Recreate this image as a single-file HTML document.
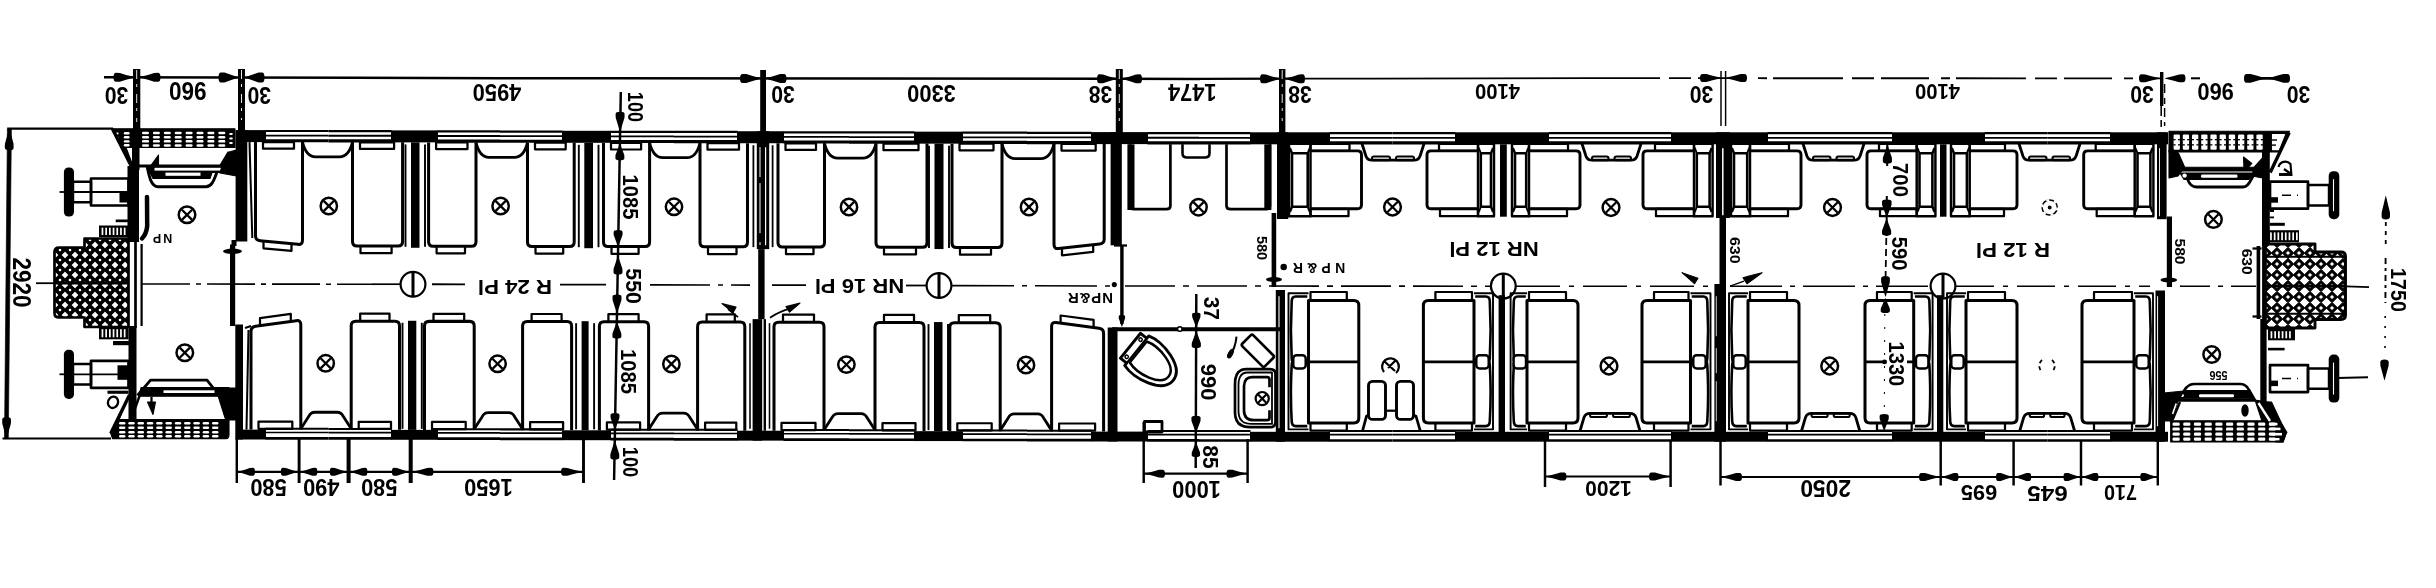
<!DOCTYPE html>
<html><head><meta charset="utf-8"><title>Wagenplan</title>
<style>
html,body{margin:0;padding:0;background:#fff;}
body{width:2436px;height:588px;overflow:hidden;font-family:"Liberation Sans",sans-serif;}
svg{display:block;}
svg text{font-family:"Liberation Sans",sans-serif;}
</style></head><body>
<svg width="2436" height="588" viewBox="0 0 2436 588" stroke="#000" fill="none" stroke-linejoin="round">
<defs>
<filter id="soft" x="-1%" y="-1%" width="102%" height="102%"><feGaussianBlur stdDeviation="0.45"/></filter>
</defs>
<rect x="0" y="0" width="2436" height="588" fill="#fff" stroke="none"/>
<g filter="url(#soft)">
<g transform="translate(0 0.00)">
<rect x="237.0" y="130.1" width="29.0" height="12.0" fill="#000" stroke="none"/>
</g>
<g transform="translate(0 0.00)">
<line x1="265.5" y1="131.0" x2="328.5" y2="131.0" stroke-width="2.24" stroke-linecap="butt"/>
<line x1="265.5" y1="135.6" x2="328.5" y2="135.6" stroke-width="1.79" stroke-linecap="butt"/>
<line x1="265.5" y1="140.7" x2="328.5" y2="140.7" stroke-width="3.14" stroke-linecap="butt"/>
</g>
<g transform="translate(0 0.15)">
<line x1="328.5" y1="131.0" x2="391.5" y2="131.0" stroke-width="2.24" stroke-linecap="butt"/>
<line x1="328.5" y1="135.6" x2="391.5" y2="135.6" stroke-width="1.79" stroke-linecap="butt"/>
<line x1="328.5" y1="140.7" x2="391.5" y2="140.7" stroke-width="3.14" stroke-linecap="butt"/>
</g>
<g transform="translate(0 0.28)">
<rect x="391.0" y="130.1" width="47.0" height="12.0" fill="#000" stroke="none"/>
</g>
<g transform="translate(0 0.41)">
<line x1="437.5" y1="131.0" x2="500.0" y2="131.0" stroke-width="2.24" stroke-linecap="butt"/>
<line x1="437.5" y1="135.6" x2="500.0" y2="135.6" stroke-width="1.79" stroke-linecap="butt"/>
<line x1="437.5" y1="140.7" x2="500.0" y2="140.7" stroke-width="3.14" stroke-linecap="butt"/>
</g>
<g transform="translate(0 0.57)">
<line x1="500.0" y1="131.0" x2="562.5" y2="131.0" stroke-width="2.24" stroke-linecap="butt"/>
<line x1="500.0" y1="135.6" x2="562.5" y2="135.6" stroke-width="1.79" stroke-linecap="butt"/>
<line x1="500.0" y1="140.7" x2="562.5" y2="140.7" stroke-width="3.14" stroke-linecap="butt"/>
</g>
<g transform="translate(0 0.70)">
<rect x="562.0" y="130.1" width="49.0" height="12.0" fill="#000" stroke="none"/>
</g>
<g transform="translate(0 0.84)">
<line x1="610.5" y1="131.0" x2="674.0" y2="131.0" stroke-width="2.24" stroke-linecap="butt"/>
<line x1="610.5" y1="135.6" x2="674.0" y2="135.6" stroke-width="1.79" stroke-linecap="butt"/>
<line x1="610.5" y1="140.7" x2="674.0" y2="140.7" stroke-width="3.14" stroke-linecap="butt"/>
</g>
<g transform="translate(0 0.99)">
<line x1="674.0" y1="131.0" x2="737.5" y2="131.0" stroke-width="2.24" stroke-linecap="butt"/>
<line x1="674.0" y1="135.6" x2="737.5" y2="135.6" stroke-width="1.79" stroke-linecap="butt"/>
<line x1="674.0" y1="140.7" x2="737.5" y2="140.7" stroke-width="3.14" stroke-linecap="butt"/>
</g>
<g transform="translate(0 1.13)">
<rect x="737.0" y="130.1" width="47.0" height="12.0" fill="#000" stroke="none"/>
</g>
<g transform="translate(0 1.26)">
<line x1="783.5" y1="131.0" x2="849.0" y2="131.0" stroke-width="2.24" stroke-linecap="butt"/>
<line x1="783.5" y1="135.6" x2="849.0" y2="135.6" stroke-width="1.79" stroke-linecap="butt"/>
<line x1="783.5" y1="140.7" x2="849.0" y2="140.7" stroke-width="3.14" stroke-linecap="butt"/>
</g>
<g transform="translate(0 1.42)">
<line x1="849.0" y1="131.0" x2="914.5" y2="131.0" stroke-width="2.24" stroke-linecap="butt"/>
<line x1="849.0" y1="135.6" x2="914.5" y2="135.6" stroke-width="1.79" stroke-linecap="butt"/>
<line x1="849.0" y1="140.7" x2="914.5" y2="140.7" stroke-width="3.14" stroke-linecap="butt"/>
</g>
<g transform="translate(0 1.56)">
<rect x="914.0" y="130.1" width="49.0" height="12.0" fill="#000" stroke="none"/>
</g>
<g transform="translate(0 1.70)">
<line x1="962.5" y1="131.0" x2="1027.0" y2="131.0" stroke-width="2.24" stroke-linecap="butt"/>
<line x1="962.5" y1="135.6" x2="1027.0" y2="135.6" stroke-width="1.79" stroke-linecap="butt"/>
<line x1="962.5" y1="140.7" x2="1027.0" y2="140.7" stroke-width="3.14" stroke-linecap="butt"/>
</g>
<g transform="translate(0 1.86)">
<line x1="1027.0" y1="131.0" x2="1091.5" y2="131.0" stroke-width="2.24" stroke-linecap="butt"/>
<line x1="1027.0" y1="135.6" x2="1091.5" y2="135.6" stroke-width="1.79" stroke-linecap="butt"/>
<line x1="1027.0" y1="140.7" x2="1091.5" y2="140.7" stroke-width="3.14" stroke-linecap="butt"/>
</g>
<g transform="translate(0 2.00)">
<rect x="1091.0" y="130.1" width="57.0" height="12.0" fill="#000" stroke="none"/>
</g>
<g transform="translate(0 2.13)">
<line x1="1147.5" y1="131.0" x2="1199.0" y2="131.0" stroke-width="2.24" stroke-linecap="butt"/>
<line x1="1147.5" y1="135.6" x2="1199.0" y2="135.6" stroke-width="1.79" stroke-linecap="butt"/>
<line x1="1147.5" y1="140.7" x2="1199.0" y2="140.7" stroke-width="3.14" stroke-linecap="butt"/>
</g>
<g transform="translate(0 2.20)">
<line x1="1199.0" y1="131.0" x2="1250.5" y2="131.0" stroke-width="2.24" stroke-linecap="butt"/>
<line x1="1199.0" y1="135.6" x2="1250.5" y2="135.6" stroke-width="1.79" stroke-linecap="butt"/>
<line x1="1199.0" y1="140.7" x2="1250.5" y2="140.7" stroke-width="3.14" stroke-linecap="butt"/>
</g>
<g transform="translate(0 2.20)">
<rect x="1250.0" y="130.1" width="80.0" height="12.0" fill="#000" stroke="none"/>
</g>
<g transform="translate(0 2.20)">
<line x1="1329.5" y1="131.0" x2="1392.5" y2="131.0" stroke-width="2.24" stroke-linecap="butt"/>
<line x1="1329.5" y1="135.6" x2="1392.5" y2="135.6" stroke-width="1.79" stroke-linecap="butt"/>
<line x1="1329.5" y1="140.7" x2="1392.5" y2="140.7" stroke-width="3.14" stroke-linecap="butt"/>
</g>
<g transform="translate(0 2.20)">
<line x1="1392.5" y1="131.0" x2="1455.5" y2="131.0" stroke-width="2.24" stroke-linecap="butt"/>
<line x1="1392.5" y1="135.6" x2="1455.5" y2="135.6" stroke-width="1.79" stroke-linecap="butt"/>
<line x1="1392.5" y1="140.7" x2="1455.5" y2="140.7" stroke-width="3.14" stroke-linecap="butt"/>
</g>
<g transform="translate(0 2.20)">
<rect x="1455.0" y="130.1" width="94.0" height="12.0" fill="#000" stroke="none"/>
</g>
<g transform="translate(0 2.20)">
<line x1="1548.5" y1="131.0" x2="1610.0" y2="131.0" stroke-width="2.24" stroke-linecap="butt"/>
<line x1="1548.5" y1="135.6" x2="1610.0" y2="135.6" stroke-width="1.79" stroke-linecap="butt"/>
<line x1="1548.5" y1="140.7" x2="1610.0" y2="140.7" stroke-width="3.14" stroke-linecap="butt"/>
</g>
<g transform="translate(0 2.20)">
<line x1="1610.0" y1="131.0" x2="1671.5" y2="131.0" stroke-width="2.24" stroke-linecap="butt"/>
<line x1="1610.0" y1="135.6" x2="1671.5" y2="135.6" stroke-width="1.79" stroke-linecap="butt"/>
<line x1="1610.0" y1="140.7" x2="1671.5" y2="140.7" stroke-width="3.14" stroke-linecap="butt"/>
</g>
<g transform="translate(0 2.20)">
<rect x="1671.0" y="130.1" width="97.0" height="12.0" fill="#000" stroke="none"/>
</g>
<g transform="translate(0 2.20)">
<line x1="1767.5" y1="131.0" x2="1830.0" y2="131.0" stroke-width="2.24" stroke-linecap="butt"/>
<line x1="1767.5" y1="135.6" x2="1830.0" y2="135.6" stroke-width="1.79" stroke-linecap="butt"/>
<line x1="1767.5" y1="140.7" x2="1830.0" y2="140.7" stroke-width="3.14" stroke-linecap="butt"/>
</g>
<g transform="translate(0 2.20)">
<line x1="1830.0" y1="131.0" x2="1892.5" y2="131.0" stroke-width="2.24" stroke-linecap="butt"/>
<line x1="1830.0" y1="135.6" x2="1892.5" y2="135.6" stroke-width="1.79" stroke-linecap="butt"/>
<line x1="1830.0" y1="140.7" x2="1892.5" y2="140.7" stroke-width="3.14" stroke-linecap="butt"/>
</g>
<g transform="translate(0 2.20)">
<rect x="1892.0" y="130.1" width="93.0" height="12.0" fill="#000" stroke="none"/>
</g>
<g transform="translate(0 2.20)">
<line x1="1984.5" y1="131.0" x2="2047.5" y2="131.0" stroke-width="2.24" stroke-linecap="butt"/>
<line x1="1984.5" y1="135.6" x2="2047.5" y2="135.6" stroke-width="1.79" stroke-linecap="butt"/>
<line x1="1984.5" y1="140.7" x2="2047.5" y2="140.7" stroke-width="3.14" stroke-linecap="butt"/>
</g>
<g transform="translate(0 2.20)">
<line x1="2047.5" y1="131.0" x2="2110.5" y2="131.0" stroke-width="2.24" stroke-linecap="butt"/>
<line x1="2047.5" y1="135.6" x2="2110.5" y2="135.6" stroke-width="1.79" stroke-linecap="butt"/>
<line x1="2047.5" y1="140.7" x2="2110.5" y2="140.7" stroke-width="3.14" stroke-linecap="butt"/>
</g>
<g transform="translate(0 2.20)">
<rect x="2110.0" y="130.1" width="58.0" height="12.0" fill="#000" stroke="none"/>
</g>
<g transform="translate(0 0.00)">
<rect x="237.0" y="429.6" width="29.0" height="9.9" fill="#000" stroke="none"/>
</g>
<g transform="translate(0 0.00)">
<line x1="265.5" y1="428.8" x2="328.5" y2="428.8" stroke-width="2.02" stroke-linecap="butt"/>
<line x1="265.5" y1="432.5" x2="328.5" y2="432.5" stroke-width="1.68" stroke-linecap="butt"/>
<line x1="265.5" y1="438.3" x2="328.5" y2="438.3" stroke-width="2.69" stroke-linecap="butt"/>
</g>
<g transform="translate(0 0.15)">
<line x1="328.5" y1="428.8" x2="391.5" y2="428.8" stroke-width="2.02" stroke-linecap="butt"/>
<line x1="328.5" y1="432.5" x2="391.5" y2="432.5" stroke-width="1.68" stroke-linecap="butt"/>
<line x1="328.5" y1="438.3" x2="391.5" y2="438.3" stroke-width="2.69" stroke-linecap="butt"/>
</g>
<g transform="translate(0 0.28)">
<rect x="391.0" y="429.6" width="47.0" height="9.9" fill="#000" stroke="none"/>
</g>
<g transform="translate(0 0.41)">
<line x1="437.5" y1="428.8" x2="500.0" y2="428.8" stroke-width="2.02" stroke-linecap="butt"/>
<line x1="437.5" y1="432.5" x2="500.0" y2="432.5" stroke-width="1.68" stroke-linecap="butt"/>
<line x1="437.5" y1="438.3" x2="500.0" y2="438.3" stroke-width="2.69" stroke-linecap="butt"/>
</g>
<g transform="translate(0 0.57)">
<line x1="500.0" y1="428.8" x2="562.5" y2="428.8" stroke-width="2.02" stroke-linecap="butt"/>
<line x1="500.0" y1="432.5" x2="562.5" y2="432.5" stroke-width="1.68" stroke-linecap="butt"/>
<line x1="500.0" y1="438.3" x2="562.5" y2="438.3" stroke-width="2.69" stroke-linecap="butt"/>
</g>
<g transform="translate(0 0.70)">
<rect x="562.0" y="429.6" width="49.0" height="9.9" fill="#000" stroke="none"/>
</g>
<g transform="translate(0 0.84)">
<line x1="610.5" y1="428.8" x2="674.0" y2="428.8" stroke-width="2.02" stroke-linecap="butt"/>
<line x1="610.5" y1="432.5" x2="674.0" y2="432.5" stroke-width="1.68" stroke-linecap="butt"/>
<line x1="610.5" y1="438.3" x2="674.0" y2="438.3" stroke-width="2.69" stroke-linecap="butt"/>
</g>
<g transform="translate(0 0.99)">
<line x1="674.0" y1="428.8" x2="737.5" y2="428.8" stroke-width="2.02" stroke-linecap="butt"/>
<line x1="674.0" y1="432.5" x2="737.5" y2="432.5" stroke-width="1.68" stroke-linecap="butt"/>
<line x1="674.0" y1="438.3" x2="737.5" y2="438.3" stroke-width="2.69" stroke-linecap="butt"/>
</g>
<g transform="translate(0 1.13)">
<rect x="737.0" y="429.6" width="47.0" height="9.9" fill="#000" stroke="none"/>
</g>
<g transform="translate(0 1.26)">
<line x1="783.5" y1="428.8" x2="849.0" y2="428.8" stroke-width="2.02" stroke-linecap="butt"/>
<line x1="783.5" y1="432.5" x2="849.0" y2="432.5" stroke-width="1.68" stroke-linecap="butt"/>
<line x1="783.5" y1="438.3" x2="849.0" y2="438.3" stroke-width="2.69" stroke-linecap="butt"/>
</g>
<g transform="translate(0 1.42)">
<line x1="849.0" y1="428.8" x2="914.5" y2="428.8" stroke-width="2.02" stroke-linecap="butt"/>
<line x1="849.0" y1="432.5" x2="914.5" y2="432.5" stroke-width="1.68" stroke-linecap="butt"/>
<line x1="849.0" y1="438.3" x2="914.5" y2="438.3" stroke-width="2.69" stroke-linecap="butt"/>
</g>
<g transform="translate(0 1.56)">
<rect x="914.0" y="429.6" width="49.0" height="9.9" fill="#000" stroke="none"/>
</g>
<g transform="translate(0 1.70)">
<line x1="962.5" y1="428.8" x2="1027.0" y2="428.8" stroke-width="2.02" stroke-linecap="butt"/>
<line x1="962.5" y1="432.5" x2="1027.0" y2="432.5" stroke-width="1.68" stroke-linecap="butt"/>
<line x1="962.5" y1="438.3" x2="1027.0" y2="438.3" stroke-width="2.69" stroke-linecap="butt"/>
</g>
<g transform="translate(0 1.86)">
<line x1="1027.0" y1="428.8" x2="1091.5" y2="428.8" stroke-width="2.02" stroke-linecap="butt"/>
<line x1="1027.0" y1="432.5" x2="1091.5" y2="432.5" stroke-width="1.68" stroke-linecap="butt"/>
<line x1="1027.0" y1="438.3" x2="1091.5" y2="438.3" stroke-width="2.69" stroke-linecap="butt"/>
</g>
<g transform="translate(0 2.00)">
<rect x="1091.0" y="429.6" width="57.0" height="9.9" fill="#000" stroke="none"/>
</g>
<g transform="translate(0 2.13)">
<line x1="1147.5" y1="428.8" x2="1199.0" y2="428.8" stroke-width="2.02" stroke-linecap="butt"/>
<line x1="1147.5" y1="432.5" x2="1199.0" y2="432.5" stroke-width="1.68" stroke-linecap="butt"/>
<line x1="1147.5" y1="438.3" x2="1199.0" y2="438.3" stroke-width="2.69" stroke-linecap="butt"/>
</g>
<g transform="translate(0 2.20)">
<line x1="1199.0" y1="428.8" x2="1250.5" y2="428.8" stroke-width="2.02" stroke-linecap="butt"/>
<line x1="1199.0" y1="432.5" x2="1250.5" y2="432.5" stroke-width="1.68" stroke-linecap="butt"/>
<line x1="1199.0" y1="438.3" x2="1250.5" y2="438.3" stroke-width="2.69" stroke-linecap="butt"/>
</g>
<g transform="translate(0 2.20)">
<rect x="1250.0" y="429.6" width="80.0" height="9.9" fill="#000" stroke="none"/>
</g>
<g transform="translate(0 2.20)">
<line x1="1329.5" y1="428.8" x2="1392.5" y2="428.8" stroke-width="2.02" stroke-linecap="butt"/>
<line x1="1329.5" y1="432.5" x2="1392.5" y2="432.5" stroke-width="1.68" stroke-linecap="butt"/>
<line x1="1329.5" y1="438.3" x2="1392.5" y2="438.3" stroke-width="2.69" stroke-linecap="butt"/>
</g>
<g transform="translate(0 2.20)">
<line x1="1392.5" y1="428.8" x2="1455.5" y2="428.8" stroke-width="2.02" stroke-linecap="butt"/>
<line x1="1392.5" y1="432.5" x2="1455.5" y2="432.5" stroke-width="1.68" stroke-linecap="butt"/>
<line x1="1392.5" y1="438.3" x2="1455.5" y2="438.3" stroke-width="2.69" stroke-linecap="butt"/>
</g>
<g transform="translate(0 2.20)">
<rect x="1455.0" y="429.6" width="94.0" height="9.9" fill="#000" stroke="none"/>
</g>
<g transform="translate(0 2.20)">
<line x1="1548.5" y1="428.8" x2="1610.0" y2="428.8" stroke-width="2.02" stroke-linecap="butt"/>
<line x1="1548.5" y1="432.5" x2="1610.0" y2="432.5" stroke-width="1.68" stroke-linecap="butt"/>
<line x1="1548.5" y1="438.3" x2="1610.0" y2="438.3" stroke-width="2.69" stroke-linecap="butt"/>
</g>
<g transform="translate(0 2.20)">
<line x1="1610.0" y1="428.8" x2="1671.5" y2="428.8" stroke-width="2.02" stroke-linecap="butt"/>
<line x1="1610.0" y1="432.5" x2="1671.5" y2="432.5" stroke-width="1.68" stroke-linecap="butt"/>
<line x1="1610.0" y1="438.3" x2="1671.5" y2="438.3" stroke-width="2.69" stroke-linecap="butt"/>
</g>
<g transform="translate(0 2.20)">
<rect x="1671.0" y="429.6" width="97.0" height="9.9" fill="#000" stroke="none"/>
</g>
<g transform="translate(0 2.20)">
<line x1="1767.5" y1="428.8" x2="1830.0" y2="428.8" stroke-width="2.02" stroke-linecap="butt"/>
<line x1="1767.5" y1="432.5" x2="1830.0" y2="432.5" stroke-width="1.68" stroke-linecap="butt"/>
<line x1="1767.5" y1="438.3" x2="1830.0" y2="438.3" stroke-width="2.69" stroke-linecap="butt"/>
</g>
<g transform="translate(0 2.20)">
<line x1="1830.0" y1="428.8" x2="1892.5" y2="428.8" stroke-width="2.02" stroke-linecap="butt"/>
<line x1="1830.0" y1="432.5" x2="1892.5" y2="432.5" stroke-width="1.68" stroke-linecap="butt"/>
<line x1="1830.0" y1="438.3" x2="1892.5" y2="438.3" stroke-width="2.69" stroke-linecap="butt"/>
</g>
<g transform="translate(0 2.20)">
<rect x="1892.0" y="429.6" width="93.0" height="9.9" fill="#000" stroke="none"/>
</g>
<g transform="translate(0 2.20)">
<line x1="1984.5" y1="428.8" x2="2047.5" y2="428.8" stroke-width="2.02" stroke-linecap="butt"/>
<line x1="1984.5" y1="432.5" x2="2047.5" y2="432.5" stroke-width="1.68" stroke-linecap="butt"/>
<line x1="1984.5" y1="438.3" x2="2047.5" y2="438.3" stroke-width="2.69" stroke-linecap="butt"/>
</g>
<g transform="translate(0 2.20)">
<line x1="2047.5" y1="428.8" x2="2110.5" y2="428.8" stroke-width="2.02" stroke-linecap="butt"/>
<line x1="2047.5" y1="432.5" x2="2110.5" y2="432.5" stroke-width="1.68" stroke-linecap="butt"/>
<line x1="2047.5" y1="438.3" x2="2110.5" y2="438.3" stroke-width="2.69" stroke-linecap="butt"/>
</g>
<g transform="translate(0 2.20)">
<rect x="2110.0" y="429.6" width="58.0" height="9.9" fill="#000" stroke="none"/>
</g>
<line x1="142.0" y1="284.0" x2="372.0" y2="284.2" stroke-width="1.57" stroke-linecap="butt" stroke-dasharray="48 6 5 6"/>
<line x1="372.0" y1="284.2" x2="400.5" y2="284.2" stroke-width="1.68" stroke-linecap="butt"/>
<line x1="432.0" y1="284.3" x2="465.0" y2="284.4" stroke-width="1.9" stroke-linecap="butt"/>
<line x1="560.0" y1="284.6" x2="606.0" y2="284.7" stroke-width="1.79" stroke-linecap="butt"/>
<line x1="650.0" y1="284.9" x2="750.0" y2="285.1" stroke-width="1.57" stroke-linecap="butt" stroke-dasharray="60 8 5 8"/>
<line x1="772.0" y1="285.2" x2="806.0" y2="285.2" stroke-width="1.79" stroke-linecap="butt"/>
<line x1="905.0" y1="285.5" x2="926.0" y2="285.5" stroke-width="1.79" stroke-linecap="butt"/>
<line x1="952.0" y1="285.6" x2="1115.0" y2="286.0" stroke-width="1.57" stroke-linecap="butt" stroke-dasharray="62 8 5 8"/>
<line x1="1125.0" y1="286.0" x2="1490.0" y2="286.2" stroke-width="1.57" stroke-linecap="butt" stroke-dasharray="50 8 6 8"/>
<line x1="1516.0" y1="286.2" x2="1716.0" y2="286.2" stroke-width="1.57" stroke-linecap="butt" stroke-dasharray="44 9 5 9"/>
<line x1="1730.0" y1="286.2" x2="1930.0" y2="286.2" stroke-width="1.57" stroke-linecap="butt" stroke-dasharray="52 8 5 8"/>
<line x1="1956.0" y1="286.2" x2="2150.0" y2="286.2" stroke-width="1.57" stroke-linecap="butt" stroke-dasharray="38 9 5 9"/>
<line x1="2180.0" y1="286.2" x2="2256.0" y2="286.2" stroke-width="1.57" stroke-linecap="butt" stroke-dasharray="30 8 5 8"/>
<g transform="translate(0 0.00)">
<path d="M255.5,142.1 L255.5,235.8 Q255.5,240.3 260.0,240.73 L298.0,244.37 Q302.5,244.8 302.5,240.3 L302.5,142.1" fill="none" stroke-width="3.02" />
<rect x="263.0" y="142.1" width="31.0" height="6.6" rx="0" fill="none" stroke-width="2.24"/>
<path d="M263.5,241.07 L263.5,248.27 L291.5,250.95 L291.5,243.75" fill="none" stroke-width="2.24" />
</g>
<g transform="translate(0 0.19)">
<path d="M352.5,142.1 L352.5,241.3 Q352.5,245.8 357.0,245.80 L398.1,245.80 Q402.6,245.8 402.6,241.3 L402.6,142.1" fill="none" stroke-width="3.02" />
<rect x="360.0" y="142.1" width="34.1" height="6.6" rx="0" fill="none" stroke-width="2.24"/>
<path d="M360.5,245.80 L360.5,253.00 L391.6,253.00 L391.6,245.80" fill="none" stroke-width="2.24" />
</g>
<g transform="translate(0 0.37)">
<path d="M428.6,142.1 L428.6,241.3 Q428.6,245.8 433.1,245.80 L471.5,245.80 Q476,245.8 476,241.3 L476,142.1" fill="none" stroke-width="3.02" />
<rect x="436.1" y="142.1" width="31.4" height="6.6" rx="0" fill="none" stroke-width="2.24"/>
<path d="M436.6,245.80 L436.6,253.00 L465,253.00 L465,245.80" fill="none" stroke-width="2.24" />
</g>
<g transform="translate(0 0.61)">
<path d="M527.5,142.1 L527.5,241.3 Q527.5,245.8 532.0,245.80 L569.7,245.80 Q574.2,245.8 574.2,241.3 L574.2,142.1" fill="none" stroke-width="3.02" />
<rect x="535.0" y="142.1" width="30.7" height="6.6" rx="0" fill="none" stroke-width="2.24"/>
<path d="M535.5,245.80 L535.5,253.00 L563.2,253.00 L563.2,245.80" fill="none" stroke-width="2.24" />
</g>
<g transform="translate(0 0.80)">
<path d="M603.5,142.1 L603.5,241.3 Q603.5,245.8 608.0,245.80 L645.1,245.80 Q649.6,245.8 649.6,241.3 L649.6,142.1" fill="none" stroke-width="3.02" />
<rect x="611.0" y="142.1" width="30.1" height="6.6" rx="0" fill="none" stroke-width="2.24"/>
<path d="M611.5,245.80 L611.5,253.00 L638.6,253.00 L638.6,245.80" fill="none" stroke-width="2.24" />
</g>
<g transform="translate(0 1.04)">
<path d="M700,142.1 L700,241.3 Q700,245.8 704.5,245.80 L743.0,245.80 Q747.5,245.8 747.5,241.3 L747.5,142.1" fill="none" stroke-width="3.02" />
<rect x="707.5" y="142.1" width="31.5" height="6.6" rx="0" fill="none" stroke-width="2.24"/>
<path d="M708,245.80 L708,253.00 L736.5,253.00 L736.5,245.80" fill="none" stroke-width="2.24" />
</g>
<g transform="translate(0 1.23)">
<path d="M778,142.1 L778,241.3 Q778,245.8 782.5,245.80 L820.0,245.80 Q824.5,245.8 824.5,241.3 L824.5,142.1" fill="none" stroke-width="3.02" />
<rect x="785.5" y="142.1" width="30.5" height="6.6" rx="0" fill="none" stroke-width="2.24"/>
<path d="M786,245.80 L786,253.00 L813.5,253.00 L813.5,245.80" fill="none" stroke-width="2.24" />
</g>
<g transform="translate(0 1.47)">
<path d="M876,142.1 L876,241.3 Q876,245.8 880.5,245.80 L922.5,245.80 Q927.0,245.8 927.0,241.3 L927.0,142.1" fill="none" stroke-width="3.02" />
<rect x="883.5" y="142.1" width="35.0" height="6.6" rx="0" fill="none" stroke-width="2.24"/>
<path d="M884,245.80 L884,253.00 L916.0,253.00 L916.0,245.80" fill="none" stroke-width="2.24" />
</g>
<g transform="translate(0 1.65)">
<path d="M952,142.1 L952,241.3 Q952,245.8 956.5,245.80 L997.5,245.80 Q1002,245.8 1002,241.3 L1002,142.1" fill="none" stroke-width="3.02" />
<rect x="959.5" y="142.1" width="34.0" height="6.6" rx="0" fill="none" stroke-width="2.24"/>
<path d="M960,245.80 L960,253.00 L991,253.00 L991,245.80" fill="none" stroke-width="2.24" />
</g>
<g transform="translate(0 1.90)">
<path d="M1054,142.1 L1054,242.60000000000002 Q1054,247.10000000000002 1058.5,246.62 L1099.7,242.18 Q1104.2,241.70000000000002 1104.2,237.20000000000002 L1104.2,142.1" fill="none" stroke-width="3.02" />
<rect x="1061.5" y="142.1" width="34.2" height="6.6" rx="0" fill="none" stroke-width="2.24"/>
<path d="M1062,246.24 L1062,253.44 L1093.2,250.08 L1093.2,242.88" fill="none" stroke-width="2.24" />
</g>
<g transform="translate(0 0.00)">
<path d="M251,429.6 L251,331.5 Q251,327.0 255.5,326.37 L296.3,320.63 Q300.8,320.0 300.8,324.5 L300.8,429.6" fill="none" stroke-width="3.02" />
<rect x="258.5" y="421.6" width="33.8" height="7.2" rx="0" fill="none" stroke-width="2.24"/>
<path d="M260,325.73 L260,318.13 L290.8,313.81 L290.8,321.41" fill="none" stroke-width="2.24" />
</g>
<g transform="translate(0 0.18)">
<path d="M351.2,429.6 L351.2,325.5 Q351.2,321.0 355.7,321.00 L395.0,321.00 Q399.5,321.0 399.5,325.5 L399.5,429.6" fill="none" stroke-width="3.02" />
<rect x="358.7" y="421.6" width="32.3" height="7.2" rx="0" fill="none" stroke-width="2.24"/>
<path d="M360.2,321.00 L360.2,313.40 L389.5,313.40 L389.5,321.00" fill="none" stroke-width="2.24" />
</g>
<g transform="translate(0 0.37)">
<path d="M424.5,429.6 L424.5,325.5 Q424.5,321.0 429.0,321.00 L469.7,321.00 Q474.2,321.0 474.2,325.5 L474.2,429.6" fill="none" stroke-width="3.02" />
<rect x="432.0" y="421.6" width="33.7" height="7.2" rx="0" fill="none" stroke-width="2.24"/>
<path d="M433.5,321.00 L433.5,313.40 L464.2,313.40 L464.2,321.00" fill="none" stroke-width="2.24" />
</g>
<g transform="translate(0 0.60)">
<path d="M522.6,429.6 L522.6,325.5 Q522.6,321.0 527.1,321.00 L567.1,321.00 Q571.6,321.0 571.6,325.5 L571.6,429.6" fill="none" stroke-width="3.02" />
<rect x="530.1" y="421.6" width="33.0" height="7.2" rx="0" fill="none" stroke-width="2.24"/>
<path d="M531.6,321.00 L531.6,313.40 L561.6,313.40 L561.6,321.00" fill="none" stroke-width="2.24" />
</g>
<g transform="translate(0 0.79)">
<path d="M599.4,429.6 L599.4,325.5 Q599.4,321.0 603.9,321.00 L644.1,321.00 Q648.6,321.0 648.6,325.5 L648.6,429.6" fill="none" stroke-width="3.02" />
<rect x="606.9" y="421.6" width="33.2" height="7.2" rx="0" fill="none" stroke-width="2.24"/>
<path d="M608.4,321.00 L608.4,313.40 L638.6,313.40 L638.6,321.00" fill="none" stroke-width="2.24" />
</g>
<g transform="translate(0 1.03)">
<path d="M697.6,429.6 L697.6,325.5 Q697.6,321.0 702.1,321.00 L740.3,321.00 Q744.8,321.0 744.8,325.5 L744.8,429.6" fill="none" stroke-width="3.02" />
<rect x="705.1" y="421.6" width="31.2" height="7.2" rx="0" fill="none" stroke-width="2.24"/>
<path d="M706.6,321.00 L706.6,313.40 L734.8,313.40 L734.8,321.00" fill="none" stroke-width="2.24" />
</g>
<g transform="translate(0 1.22)">
<path d="M774,429.6 L774,325.5 Q774,321.0 778.5,321.00 L819.5,321.00 Q824,321.0 824,325.5 L824,429.6" fill="none" stroke-width="3.02" />
<rect x="781.5" y="421.6" width="34.0" height="7.2" rx="0" fill="none" stroke-width="2.24"/>
<path d="M783,321.00 L783,313.40 L814,313.40 L814,321.00" fill="none" stroke-width="2.24" />
</g>
<g transform="translate(0 1.47)">
<path d="M875,429.6 L875,325.5 Q875,321.0 879.5,321.00 L919.5,321.00 Q924,321.0 924,325.5 L924,429.6" fill="none" stroke-width="3.02" />
<rect x="882.5" y="421.6" width="33.0" height="7.2" rx="0" fill="none" stroke-width="2.24"/>
<path d="M884,321.00 L884,313.40 L914,313.40 L914,321.00" fill="none" stroke-width="2.24" />
</g>
<g transform="translate(0 1.65)">
<path d="M949.8,429.6 L949.8,325.5 Q949.8,321.0 954.3,321.00 L995.7,321.00 Q1000.2,321.0 1000.2,325.5 L1000.2,429.6" fill="none" stroke-width="3.02" />
<rect x="957.3" y="421.6" width="34.4" height="7.2" rx="0" fill="none" stroke-width="2.24"/>
<path d="M958.8,321.00 L958.8,313.40 L990.2,313.40 L990.2,321.00" fill="none" stroke-width="2.24" />
</g>
<g transform="translate(0 1.90)">
<path d="M1051.6,429.6 L1051.6,324.5 Q1051.6,320.0 1056.1,320.61 L1099.1,326.39 Q1103.6,327.0 1103.6,331.5 L1103.6,429.6" fill="none" stroke-width="3.02" />
<rect x="1059.1" y="421.6" width="36.0" height="7.2" rx="0" fill="none" stroke-width="2.24"/>
<path d="M1060.6,321.21 L1060.6,313.61 L1093.6,318.05 L1093.6,325.65" fill="none" stroke-width="2.24" />
</g>
<g transform="translate(0 0.07)">
<path d="M302.5,142.1 C304.5,150.1 308.5,156.8 315.5,156.8 L339.5,156.8 C346.5,156.8 350.5,150.1 352.5,142.1" fill="none" stroke-width="2.8" />
</g>
<g transform="translate(0 0.49)">
<path d="M476,142.1 C478,150.1 482,156.8 489,156.8 L514.5,156.8 C521.5,156.8 525.5,150.1 527.5,142.1" fill="none" stroke-width="2.8" />
</g>
<g transform="translate(0 0.92)">
<path d="M649.6,142.1 C651.6,150.1 655.6,156.8 662.6,156.8 L687,156.8 C694,156.8 698,150.1 700,142.1" fill="none" stroke-width="2.8" />
</g>
<g transform="translate(0 1.35)">
<path d="M824.5,142.1 C826.5,150.1 830.5,156.8 837.5,156.8 L863,156.8 C870,156.8 874,150.1 876,142.1" fill="none" stroke-width="2.8" />
</g>
<g transform="translate(0 1.78)">
<path d="M1002,142.1 C1004,150.1 1008,156.8 1015,156.8 L1041,156.8 C1048,156.8 1052,150.1 1054,142.1" fill="none" stroke-width="2.8" />
</g>
<g transform="translate(0 0.06)">
<path d="M300.8,428.6 L308.8,416.2 Q310.8,412.2 314.8,412.2 L337.2,412.2 Q341.2,412.2 343.2,416.2 L351.2,428.6" fill="none" stroke-width="2.8" />
</g>
<g transform="translate(0 0.48)">
<path d="M474.2,428.6 L482.2,416.2 Q484.2,412.2 488.2,412.2 L508.6,412.2 Q512.6,412.2 514.6,416.2 L522.6,428.6" fill="none" stroke-width="2.8" />
</g>
<g transform="translate(0 0.91)">
<path d="M648.6,428.6 L656.6,416.2 Q658.6,412.2 662.6,412.2 L683.6,412.2 Q687.6,412.2 689.6,416.2 L697.6,428.6" fill="none" stroke-width="2.8" />
</g>
<g transform="translate(0 1.34)">
<path d="M824,428.6 L832,416.2 Q834,412.2 838,412.2 L861,412.2 Q865,412.2 867,416.2 L875,428.6" fill="none" stroke-width="2.8" />
</g>
<g transform="translate(0 1.77)">
<path d="M1000.2,428.6 L1008.2,416.2 Q1010.2,412.2 1014.2,412.2 L1037.6,412.2 Q1041.6,412.2 1043.6,416.2 L1051.6,428.6" fill="none" stroke-width="2.8" />
</g>
<g transform="translate(0 0.28)">
<rect x="411.0" y="142.1" width="8.5" height="105.4" fill="#000" stroke="none"/>
<line x1="405.5" y1="144.1" x2="405.5" y2="246.5" stroke-width="1.9" stroke-linecap="butt"/>
<line x1="425.0" y1="144.1" x2="425.0" y2="246.5" stroke-width="1.9" stroke-linecap="butt"/>
</g>
<g transform="translate(0 0.71)">
<rect x="584.3" y="142.1" width="8.7" height="105.4" fill="#000" stroke="none"/>
<line x1="578.8" y1="144.1" x2="578.8" y2="246.5" stroke-width="1.9" stroke-linecap="butt"/>
<line x1="598.5" y1="144.1" x2="598.5" y2="246.5" stroke-width="1.9" stroke-linecap="butt"/>
</g>
<g transform="translate(0 1.56)">
<rect x="934.5" y="142.1" width="9.0" height="105.4" fill="#000" stroke="none"/>
<line x1="929.0" y1="144.1" x2="929.0" y2="246.5" stroke-width="1.9" stroke-linecap="butt"/>
<line x1="949.0" y1="144.1" x2="949.0" y2="246.5" stroke-width="1.9" stroke-linecap="butt"/>
</g>
<g transform="translate(0 0.27)">
<rect x="408.0" y="320.5" width="8.3" height="109.1" fill="#000" stroke="none"/>
<line x1="402.5" y1="322.5" x2="402.5" y2="428.6" stroke-width="1.9" stroke-linecap="butt"/>
<line x1="421.8" y1="322.5" x2="421.8" y2="428.6" stroke-width="1.9" stroke-linecap="butt"/>
</g>
<g transform="translate(0 0.70)">
<rect x="581.6" y="320.5" width="7.0" height="109.1" fill="#000" stroke="none"/>
<line x1="576.1" y1="322.5" x2="576.1" y2="428.6" stroke-width="1.9" stroke-linecap="butt"/>
<line x1="594.1" y1="322.5" x2="594.1" y2="428.6" stroke-width="1.9" stroke-linecap="butt"/>
</g>
<g transform="translate(0 1.56)">
<rect x="934.0" y="320.5" width="8.5" height="109.1" fill="#000" stroke="none"/>
<line x1="928.5" y1="322.5" x2="928.5" y2="428.6" stroke-width="1.9" stroke-linecap="butt"/>
<line x1="948.0" y1="322.5" x2="948.0" y2="428.6" stroke-width="1.9" stroke-linecap="butt"/>
</g>
<circle cx="328.8" cy="206.0" r="8.2" fill="none" stroke-width="2.46"/>
<line x1="323.7" y1="200.9" x2="333.9" y2="211.1" stroke-width="2.24" stroke-linecap="butt"/>
<line x1="323.7" y1="211.1" x2="333.9" y2="200.9" stroke-width="2.24" stroke-linecap="butt"/>
<circle cx="500.6" cy="206.0" r="8.2" fill="none" stroke-width="2.46"/>
<line x1="495.5" y1="200.9" x2="505.7" y2="211.1" stroke-width="2.24" stroke-linecap="butt"/>
<line x1="495.5" y1="211.1" x2="505.7" y2="200.9" stroke-width="2.24" stroke-linecap="butt"/>
<circle cx="674.0" cy="206.8" r="8.2" fill="none" stroke-width="2.46"/>
<line x1="668.9" y1="201.7" x2="679.1" y2="211.9" stroke-width="2.24" stroke-linecap="butt"/>
<line x1="668.9" y1="211.9" x2="679.1" y2="201.7" stroke-width="2.24" stroke-linecap="butt"/>
<circle cx="849.0" cy="207.0" r="8.2" fill="none" stroke-width="2.46"/>
<line x1="843.9" y1="201.9" x2="854.1" y2="212.1" stroke-width="2.24" stroke-linecap="butt"/>
<line x1="843.9" y1="212.1" x2="854.1" y2="201.9" stroke-width="2.24" stroke-linecap="butt"/>
<circle cx="1029.0" cy="207.0" r="8.2" fill="none" stroke-width="2.46"/>
<line x1="1023.9" y1="201.9" x2="1034.1" y2="212.1" stroke-width="2.24" stroke-linecap="butt"/>
<line x1="1023.9" y1="212.1" x2="1034.1" y2="201.9" stroke-width="2.24" stroke-linecap="butt"/>
<circle cx="325.7" cy="363.3" r="8.2" fill="none" stroke-width="2.46"/>
<line x1="320.6" y1="358.2" x2="330.8" y2="368.4" stroke-width="2.24" stroke-linecap="butt"/>
<line x1="320.6" y1="368.4" x2="330.8" y2="358.2" stroke-width="2.24" stroke-linecap="butt"/>
<circle cx="497.6" cy="363.8" r="8.2" fill="none" stroke-width="2.46"/>
<line x1="492.5" y1="358.7" x2="502.7" y2="368.9" stroke-width="2.24" stroke-linecap="butt"/>
<line x1="492.5" y1="368.9" x2="502.7" y2="358.7" stroke-width="2.24" stroke-linecap="butt"/>
<circle cx="671.4" cy="364.0" r="8.2" fill="none" stroke-width="2.46"/>
<line x1="666.3" y1="358.9" x2="676.5" y2="369.1" stroke-width="2.24" stroke-linecap="butt"/>
<line x1="666.3" y1="369.1" x2="676.5" y2="358.9" stroke-width="2.24" stroke-linecap="butt"/>
<circle cx="846.4" cy="364.6" r="8.2" fill="none" stroke-width="2.46"/>
<line x1="841.3" y1="359.5" x2="851.5" y2="369.7" stroke-width="2.24" stroke-linecap="butt"/>
<line x1="841.3" y1="369.7" x2="851.5" y2="359.5" stroke-width="2.24" stroke-linecap="butt"/>
<circle cx="1026.0" cy="365.0" r="8.2" fill="none" stroke-width="2.46"/>
<line x1="1020.9" y1="359.9" x2="1031.1" y2="370.1" stroke-width="2.24" stroke-linecap="butt"/>
<line x1="1020.9" y1="370.1" x2="1031.1" y2="359.9" stroke-width="2.24" stroke-linecap="butt"/>
<circle cx="413.0" cy="284.2" r="12.4" fill="#fff" stroke-width="2.2"/>
<line x1="413.0" y1="272.3" x2="413.0" y2="296.1" stroke-width="3.02" stroke-linecap="butt"/>
<circle cx="939.0" cy="285.5" r="12.4" fill="#fff" stroke-width="2.2"/>
<line x1="939.0" y1="273.6" x2="939.0" y2="297.4" stroke-width="3.02" stroke-linecap="butt"/>
<circle cx="1503.3" cy="286.1" r="12.4" fill="#fff" stroke-width="2.2"/>
<line x1="1503.3" y1="274.2" x2="1503.3" y2="298.0" stroke-width="3.02" stroke-linecap="butt"/>
<circle cx="1943.0" cy="286.1" r="12.4" fill="#fff" stroke-width="2.2"/>
<line x1="1943.0" y1="274.2" x2="1943.0" y2="298.0" stroke-width="3.02" stroke-linecap="butt"/>
<g transform="translate(0 0.00)">
<rect x="235.6" y="130.1" width="11.7" height="111.4" fill="#000" stroke="none"/>
<rect x="230.0" y="244.5" width="5.2" height="81.5" fill="#000" stroke="none"/>
<ellipse cx="232.5" cy="251.3" rx="9.5" ry="2.7" fill="#000" stroke="none"/>
<rect x="231.5" y="240.0" width="5.0" height="6.0" fill="#000" stroke="none"/>
<rect x="235.3" y="324.5" width="7.7" height="115.0" fill="#000" stroke="none"/>
<path d="M249.5,142.1 L252.3,238" fill="none" stroke-width="2.02" />
<path d="M246.5,429.6 L248.5,330 M245,328 L251,326" fill="none" stroke-width="2.02" />
</g>
<g transform="translate(0 1.13)">
<rect x="756.8" y="130.1" width="12.4" height="117.9" fill="#000" stroke="none"/>
<line x1="760.0" y1="146" x2="760.0" y2="244" stroke="#fff" stroke-width="1.0" stroke-dasharray="30 6 50 9"/>
<line x1="765.6" y1="146" x2="765.6" y2="244" stroke="#fff" stroke-width="1.2"/>
<line x1="753.4" y1="144.1" x2="753.4" y2="246.0" stroke-width="1.79" stroke-linecap="butt"/>
<line x1="772.6" y1="144.1" x2="772.6" y2="246.0" stroke-width="1.79" stroke-linecap="butt"/>
<rect x="758.2" y="248.0" width="6.4" height="70.0" fill="#000" stroke="none"/>
<rect x="752.6" y="318.0" width="9.6" height="121.5" fill="#000" stroke="none"/>
<rect x="763.6" y="318.0" width="2.4" height="111.6" fill="#000" stroke="none"/>
<line x1="750.0" y1="322.0" x2="750.0" y2="427.6" stroke-width="1.57" stroke-linecap="butt"/>
<line x1="769.5" y1="322.0" x2="769.5" y2="427.6" stroke-width="1.57" stroke-linecap="butt"/>
<path d="M722,302.5 L736,306 L733,311.5 Z" fill="#000" stroke-width="1.12" />
<path d="M728,308 Q733,312 738,316" fill="none" stroke-width="1.79" />
<path d="M800,302 L786,305.5 L789.5,311 Z" fill="#000" stroke-width="1.12" />
<path d="M790,307.5 Q780,310 770,316.5" fill="none" stroke-width="1.79" />
</g>
<g transform="translate(0 2.00)">
<rect x="1110.6" y="130.1" width="11.2" height="113.2" fill="#000" stroke="none"/>
<rect x="1120.2" y="243.3" width="3.4" height="78.7" fill="#000" stroke="none"/>
<path d="M0,0 L-1.20,-0.51 Q-4.80,-1.76 -8.40,-3.14 L-10.56,-3.20 Q-12.00,-3.20 -12.00,0 Q-12.00,3.20 -10.56,3.20 L-8.40,3.14 Q-4.80,1.76 -1.20,0.51 Z" transform="translate(1121.9 325.0) rotate(90)" fill="#000" stroke="none"/>
<line x1="1114.0" y1="243.5" x2="1127.0" y2="243.5" stroke-width="2.24" stroke-linecap="butt"/>
<rect x="1107.7" y="325.5" width="9.8" height="114.0" fill="#000" stroke="none"/>
<circle cx="1114.3" cy="282.6" r="1.8" fill="#000" stroke-width="1.57"/>
</g>
<g transform="translate(0 2.20)">
<rect x="1277.0" y="130.1" width="11.3" height="86.7" fill="#000" stroke="none"/>
<rect x="1271.6" y="210.8" width="4.6" height="74.0" fill="#000" stroke="none"/>
<ellipse cx="1274" cy="277.3" rx="8" ry="2.4" fill="#000" stroke="none"/>
<rect x="1275.8" y="287.8" width="9.2" height="151.7" fill="#000" stroke="none"/>
<line x1="1279.0" y1="294" x2="1279.0" y2="426" stroke="#fff" stroke-width="1.1"/>
</g>
<g transform="translate(0 2.20)">
<rect x="1716.0" y="130.1" width="14.0" height="85.7" fill="#000" stroke="none"/>
<line x1="1722.8" y1="146" x2="1722.8" y2="213" stroke="#fff" stroke-width="1.5"/>
<rect x="1719.5" y="215.8" width="6.5" height="67.0" fill="#000" stroke="none"/>
<rect x="1714.4" y="281.8" width="11.6" height="157.7" fill="#000" stroke="none"/>
<line x1="1716.3" y1="294" x2="1716.3" y2="424" stroke="#fff" stroke-width="0.8" stroke-dasharray="40 12 25 8"/>
<path d="M1682,270.5 L1698,276 L1694.5,281.5 Z" fill="#000" stroke-width="1.12" />
<path d="M1762,270.5 L1743,275.5 L1747,281.5 Z" fill="#000" stroke-width="1.12" />
<path d="M1744,279 L1730,284" fill="none" stroke-width="1.34" />
</g>
<g transform="translate(0 2.20)">
<rect x="2157.0" y="130.1" width="9.6" height="86.9" fill="#000" stroke="none"/>
<line x1="2159.5" y1="146" x2="2159.5" y2="214" stroke="#fff" stroke-width="0.9"/>
<rect x="2166.8" y="214.3" width="5.2" height="70.5" fill="#000" stroke="none"/>
<ellipse cx="2168.8" cy="277.7" rx="8.3" ry="2.5" fill="#000" stroke="none"/>
<rect x="2155.5" y="288.3" width="9.5" height="151.2" fill="#000" stroke="none"/>
<line x1="2157.6" y1="294" x2="2157.6" y2="424" stroke="#fff" stroke-width="1.0"/>
</g>
<g transform="translate(0 2.20)">
<path d="M1130,142.1 L1130,203.5 Q1130,207 1134,207 L1166.5,207 Q1170.4,207 1170.4,203.5 L1170.4,142.1" fill="none" stroke-width="2.69" />
<rect x="1127.4" y="142.1" width="7.1" height="65.7" fill="#000" stroke="none"/>
<path d="M1226.5,142.1 L1226.5,203.5 Q1226.5,207 1230.5,207 L1266,207 Q1270,207 1270,203.5 L1270,142.1" fill="none" stroke-width="2.69" />
<rect x="1264.3" y="142.1" width="7.1" height="65.7" fill="#000" stroke="none"/>
<path d="M1182.5,142.1 L1182.5,151 Q1182.5,155.3 1187,155.3 L1205,155.3 Q1209.5,155.3 1209.5,151 L1209.5,142.1" fill="none" stroke-width="2.58" />
</g>
<circle cx="1198.5" cy="207.2" r="8.2" fill="none" stroke-width="2.46"/>
<line x1="1193.4" y1="202.1" x2="1203.6" y2="212.3" stroke-width="2.24" stroke-linecap="butt"/>
<line x1="1193.4" y1="212.3" x2="1203.6" y2="202.1" stroke-width="2.24" stroke-linecap="butt"/>
<g transform="translate(0 2.20)">
<line x1="1112.0" y1="327.0" x2="1282.0" y2="327.0" stroke-width="4.03" stroke-linecap="butt"/>
<circle cx="1179.8" cy="326.8" r="2.3" fill="#fff" stroke="#000" stroke-width="1.5"/>
<g transform="translate(1151.5 360.5) rotate(39)">
<path d="M-27,-16 L-19,-16 L-19,-19 C-4,-24 28,-17 28,0 C28,17 -4,24 -19,19 L-19,16 L-27,16 Z" fill="none" stroke-width="2.91" />
<path d="M-17,-13.5 C-4,-18 22,-12.5 22,0 C22,12.5 -4,18 -17,13.5 Z" fill="none" stroke-width="2.46" />
<line x1="-19.0" y1="-16.0" x2="-19.0" y2="16.0" stroke-width="2.24" stroke-linecap="butt"/>
<circle cx="-23.0" cy="-11.0" r="1.7" fill="none" stroke-width="1.46"/>
<circle cx="-23.0" cy="11.0" r="1.7" fill="none" stroke-width="1.46"/>
</g>
<rect x="1144.5" y="419.3" width="17.5" height="10.5" rx="0" fill="none" stroke-width="2.8"/>
<path d="M1246,367 L1270,367 Q1275.5,367 1275.5,372 L1275.5,419.5 Q1275.5,425 1270,425 L1250,425 Q1235,425 1235,410 L1235,382 Q1235,367 1246,367 Z" fill="none" stroke-width="2.69" />
<path d="M1247.5,370.3 L1272,370.3 L1272,421.7 L1251,421.7 Q1238.5,421.7 1238.5,409 L1238.5,383 Q1238.5,370.3 1247.5,370.3 Z" fill="none" stroke-width="1.79" />
<path d="M1252,375 L1267,375 Q1269.5,375 1269.5,377.5 L1269.5,385 M1269.5,408 L1269.5,415.5 Q1269.5,418 1267,418 L1254,418 Q1244,418 1244,408 L1244,385 Q1244,375 1252,375" fill="none" stroke-width="2.69" />
<circle cx="1262.2" cy="396.4" r="6.6" fill="none" stroke-width="2.24"/>
<line x1="1258.1" y1="392.3" x2="1266.3" y2="400.5" stroke-width="2.24" stroke-linecap="butt"/>
<line x1="1258.1" y1="400.5" x2="1266.3" y2="392.3" stroke-width="2.24" stroke-linecap="butt"/>
<g transform="translate(1258 348.4) rotate(45)">
<rect x="-16.0" y="-7.5" width="32.0" height="15.5" rx="2" fill="none" stroke-width="2.69"/>
</g>
<path d="M1236.5,334.5 Q1235.5,346 1229.5,354" fill="none" stroke-width="2.02" />
<ellipse cx="1230.5" cy="351.5" rx="2.6" ry="5.2" transform="rotate(28 1230.5 351.5)" fill="#000" stroke="none"/>
</g>
<g transform="translate(0 2.20)">
<rect x="1289.0" y="141.6" width="21.5" height="72.4" rx="0" fill="none" stroke-width="2.46"/>
<path d="M1307.7,151.1 L1292.0,151.1 L1292.0,204.5 L1307.7,204.5 Z" fill="none" stroke-width="2.58" />
<path d="M1292.0,151.1 L1289.8,145.79999999999998 M1292.0,204.5 L1289.8,209.8" fill="none" stroke-width="2.46" />
<path d="M1307.7,151.1 Q1309.2,146.6 1310.0,145.6 M1307.7,204.5 Q1309.2,209.0 1310.0,210.0" fill="none" stroke-width="1.9" />
<path d="M1310.5,148.7 L1357.5,148.7 Q1361.5,148.7 1361.5,152.7 L1361.5,202.6 Q1361.5,206.6 1357.5,206.6 L1310.5,206.6" fill="none" stroke-width="2.91" />
<rect x="1310.5" y="141.6" width="39.0" height="7.1" rx="0" fill="none" stroke-width="2.24"/>
<rect x="1310.5" y="206.6" width="38.0" height="7.4" rx="0" fill="none" stroke-width="2.24"/>
</g>
<g transform="translate(0 2.20)">
<rect x="1478.0" y="141.6" width="16.0" height="72.4" rx="0" fill="none" stroke-width="2.46"/>
<path d="M1480.8,151.1 L1491.0,151.1 L1491.0,204.5 L1480.8,204.5 Z" fill="none" stroke-width="2.58" />
<path d="M1491.0,151.1 L1493.2,145.79999999999998 M1491.0,204.5 L1493.2,209.8" fill="none" stroke-width="2.46" />
<path d="M1480.8,151.1 Q1479.3,146.6 1478.5,145.6 M1480.8,204.5 Q1479.3,209.0 1478.5,210.0" fill="none" stroke-width="1.9" />
<path d="M1478,148.7 L1431,148.7 Q1427,148.7 1427,152.7 L1427,202.6 Q1427,206.6 1431,206.6 L1478,206.6" fill="none" stroke-width="2.91" />
<rect x="1439.0" y="141.6" width="39.0" height="7.1" rx="0" fill="none" stroke-width="2.24"/>
<rect x="1440.0" y="206.6" width="38.0" height="7.4" rx="0" fill="none" stroke-width="2.24"/>
</g>
<g transform="translate(0 2.20)">
<rect x="1500.0" y="142.1" width="6.8" height="72.4" fill="#000" stroke="none"/>
</g>
<g transform="translate(0 2.20)">
<rect x="1512.0" y="141.6" width="17.0" height="72.4" rx="0" fill="none" stroke-width="2.46"/>
<path d="M1526.2,151.1 L1515.0,151.1 L1515.0,204.5 L1526.2,204.5 Z" fill="none" stroke-width="2.58" />
<path d="M1515.0,151.1 L1512.8,145.79999999999998 M1515.0,204.5 L1512.8,209.8" fill="none" stroke-width="2.46" />
<path d="M1526.2,151.1 Q1527.7,146.6 1528.5,145.6 M1526.2,204.5 Q1527.7,209.0 1528.5,210.0" fill="none" stroke-width="1.9" />
<path d="M1529,148.7 L1576,148.7 Q1580,148.7 1580,152.7 L1580,202.6 Q1580,206.6 1576,206.6 L1529,206.6" fill="none" stroke-width="2.91" />
<rect x="1529.0" y="141.6" width="39.0" height="7.1" rx="0" fill="none" stroke-width="2.24"/>
<rect x="1529.0" y="206.6" width="38.0" height="7.4" rx="0" fill="none" stroke-width="2.24"/>
</g>
<g transform="translate(0 2.20)">
<rect x="1694.0" y="141.6" width="18.6" height="72.4" rx="0" fill="none" stroke-width="2.46"/>
<path d="M1696.8,151.1 L1709.6,151.1 L1709.6,204.5 L1696.8,204.5 Z" fill="none" stroke-width="2.58" />
<path d="M1709.6,151.1 L1711.8,145.79999999999998 M1709.6,204.5 L1711.8,209.8" fill="none" stroke-width="2.46" />
<path d="M1696.8,151.1 Q1695.3,146.6 1694.5,145.6 M1696.8,204.5 Q1695.3,209.0 1694.5,210.0" fill="none" stroke-width="1.9" />
<path d="M1694,148.7 L1647,148.7 Q1643,148.7 1643,152.7 L1643,202.6 Q1643,206.6 1647,206.6 L1694,206.6" fill="none" stroke-width="2.91" />
<rect x="1655.0" y="141.6" width="39.0" height="7.1" rx="0" fill="none" stroke-width="2.24"/>
<rect x="1656.0" y="206.6" width="38.0" height="7.4" rx="0" fill="none" stroke-width="2.24"/>
</g>
<g transform="translate(0 2.20)">
<rect x="1731.0" y="141.6" width="19.0" height="72.4" rx="0" fill="none" stroke-width="2.46"/>
<path d="M1747.2,151.1 L1734.0,151.1 L1734.0,204.5 L1747.2,204.5 Z" fill="none" stroke-width="2.58" />
<path d="M1734.0,151.1 L1731.8,145.79999999999998 M1734.0,204.5 L1731.8,209.8" fill="none" stroke-width="2.46" />
<path d="M1747.2,151.1 Q1748.7,146.6 1749.5,145.6 M1747.2,204.5 Q1748.7,209.0 1749.5,210.0" fill="none" stroke-width="1.9" />
<path d="M1750,148.7 L1797,148.7 Q1801,148.7 1801,152.7 L1801,202.6 Q1801,206.6 1797,206.6 L1750,206.6" fill="none" stroke-width="2.91" />
<rect x="1750.0" y="141.6" width="39.0" height="7.1" rx="0" fill="none" stroke-width="2.24"/>
<rect x="1750.0" y="206.6" width="38.0" height="7.4" rx="0" fill="none" stroke-width="2.24"/>
</g>
<g transform="translate(0 2.20)">
<rect x="1916.7" y="141.6" width="18.7" height="72.4" rx="0" fill="none" stroke-width="2.46"/>
<path d="M1919.5,151.1 L1932.4,151.1 L1932.4,204.5 L1919.5,204.5 Z" fill="none" stroke-width="2.58" />
<path d="M1932.4,151.1 L1934.6000000000001,145.79999999999998 M1932.4,204.5 L1934.6000000000001,209.8" fill="none" stroke-width="2.46" />
<path d="M1919.5,151.1 Q1918.0,146.6 1917.2,145.6 M1919.5,204.5 Q1918.0,209.0 1917.2,210.0" fill="none" stroke-width="1.9" />
<path d="M1916.7,148.7 L1871,148.7 Q1867,148.7 1867,152.7 L1867,202.6 Q1867,206.6 1871,206.6 L1916.7,206.6" fill="none" stroke-width="2.91" />
<rect x="1879.0" y="141.6" width="37.7" height="7.1" rx="0" fill="none" stroke-width="2.24"/>
<rect x="1880.0" y="206.6" width="36.7" height="7.4" rx="0" fill="none" stroke-width="2.24"/>
</g>
<g transform="translate(0 2.20)">
<rect x="1940.0" y="142.1" width="6.5" height="72.4" fill="#000" stroke="none"/>
</g>
<g transform="translate(0 2.20)">
<rect x="1951.0" y="141.6" width="18.7" height="72.4" rx="0" fill="none" stroke-width="2.46"/>
<path d="M1966.9,151.1 L1954.0,151.1 L1954.0,204.5 L1966.9,204.5 Z" fill="none" stroke-width="2.58" />
<path d="M1954.0,151.1 L1951.8,145.79999999999998 M1954.0,204.5 L1951.8,209.8" fill="none" stroke-width="2.46" />
<path d="M1966.9,151.1 Q1968.4,146.6 1969.2,145.6 M1966.9,204.5 Q1968.4,209.0 1969.2,210.0" fill="none" stroke-width="1.9" />
<path d="M1969.7,148.7 L2013,148.7 Q2017,148.7 2017,152.7 L2017,202.6 Q2017,206.6 2013,206.6 L1969.7,206.6" fill="none" stroke-width="2.91" />
<rect x="1969.7" y="141.6" width="35.3" height="7.1" rx="0" fill="none" stroke-width="2.24"/>
<rect x="1969.7" y="206.6" width="34.3" height="7.4" rx="0" fill="none" stroke-width="2.24"/>
</g>
<g transform="translate(0 2.20)">
<rect x="2134.7" y="141.6" width="18.7" height="72.4" rx="0" fill="none" stroke-width="2.46"/>
<path d="M2137.5,151.1 L2150.4,151.1 L2150.4,204.5 L2137.5,204.5 Z" fill="none" stroke-width="2.58" />
<path d="M2150.4,151.1 L2152.6,145.79999999999998 M2150.4,204.5 L2152.6,209.8" fill="none" stroke-width="2.46" />
<path d="M2137.5,151.1 Q2136.0,146.6 2135.2,145.6 M2137.5,204.5 Q2136.0,209.0 2135.2,210.0" fill="none" stroke-width="1.9" />
<path d="M2134.7,148.7 L2087.7,148.7 Q2083.7,148.7 2083.7,152.7 L2083.7,202.6 Q2083.7,206.6 2087.7,206.6 L2134.7,206.6" fill="none" stroke-width="2.91" />
<rect x="2095.7" y="141.6" width="39.0" height="7.1" rx="0" fill="none" stroke-width="2.24"/>
<rect x="2096.7" y="206.6" width="38.0" height="7.4" rx="0" fill="none" stroke-width="2.24"/>
</g>
<g transform="translate(0 2.20)">
<path d="M1362,141.6 L1366,154.0 Q1367.5,158.0 1372,158.0 L1414,158.0 Q1418.5,158.0 1420,154.0 L1424,141.6" fill="none" stroke-width="2.8" />
<rect x="1372.0" y="154.4" width="18.0" height="3.6" rx="1.8" fill="none" stroke-width="2.02"/>
<rect x="1396.0" y="154.4" width="18.0" height="3.6" rx="1.8" fill="none" stroke-width="2.02"/>
</g>
<g transform="translate(0 2.20)">
<path d="M1582,141.6 L1586,154.0 Q1587.5,158.0 1592,158.0 L1631,158.0 Q1635.5,158.0 1637,154.0 L1641,141.6" fill="none" stroke-width="2.8" />
<rect x="1592.0" y="154.4" width="16.5" height="3.6" rx="1.8" fill="none" stroke-width="2.02"/>
<rect x="1614.5" y="154.4" width="16.5" height="3.6" rx="1.8" fill="none" stroke-width="2.02"/>
</g>
<g transform="translate(0 2.20)">
<path d="M1803,141.6 L1807,154.0 Q1808.5,158.0 1813,158.0 L1854,158.0 Q1858.5,158.0 1860,154.0 L1864,141.6" fill="none" stroke-width="2.8" />
<rect x="1813.0" y="154.4" width="17.5" height="3.6" rx="1.8" fill="none" stroke-width="2.02"/>
<rect x="1836.5" y="154.4" width="17.5" height="3.6" rx="1.8" fill="none" stroke-width="2.02"/>
</g>
<g transform="translate(0 2.20)">
<path d="M2019,141.6 L2023,154.0 Q2024.5,158.0 2029,158.0 L2070,158.0 Q2074.5,158.0 2076,154.0 L2080,141.6" fill="none" stroke-width="2.8" />
<rect x="2029.0" y="154.4" width="17.5" height="3.6" rx="1.8" fill="none" stroke-width="2.02"/>
<rect x="2052.5" y="154.4" width="17.5" height="3.6" rx="1.8" fill="none" stroke-width="2.02"/>
</g>
<g transform="translate(0 2.20)">
<path d="M1308.5,291.0 L1288.5,291.0 L1288.5,427.2 L1308.5,427.2" fill="none" stroke-width="1.9" />
<path d="M1307.3,294.3 L1295.7,294.3 Q1291.7,294.3 1291.7,299.3 Q1290.1000000000001,327.70000000000005 1291.7,356.1 Q1291.7,361.1 1295.7,361.1 L1307.3,361.1" fill="none" stroke-width="2.58" />
<path d="M1307.3,358.1 L1295.7,358.1 Q1291.7,358.1 1291.7,363.1 Q1290.1000000000001,391.0 1291.7,418.9 Q1291.7,423.9 1295.7,423.9 L1307.3,423.9" fill="none" stroke-width="2.58" />
<rect x="1293.3" y="353.0" width="12.4" height="13.2" rx="3.2" fill="#fff" stroke="#000" stroke-width="2.46"/>
<path d="M1308.5,298.3 L1353.8,298.3 Q1358.8,298.3 1358.8,303.3 L1358.8,415.8 Q1358.8,420.8 1353.8,420.8 L1308.5,420.8 Z" fill="none" stroke-width="3.02" />
<rect x="1310.5" y="289.8" width="36.3" height="8.5" rx="0" fill="none" stroke-width="2.24"/>
<rect x="1310.5" y="420.8" width="36.3" height="7.6" rx="0" fill="none" stroke-width="2.24"/>
<line x1="1308.5" y1="359.6" x2="1358.8" y2="359.6" stroke-width="2.69" stroke-linecap="butt"/>
</g>
<g transform="translate(0 2.20)">
<path d="M1474,291.0 L1493,291.0 L1493,427.2 L1474,427.2" fill="none" stroke-width="1.9" />
<path d="M1475.2,294.3 L1485.8,294.3 Q1489.8,294.3 1489.8,299.3 Q1491.3999999999999,327.70000000000005 1489.8,356.1 Q1489.8,361.1 1485.8,361.1 L1475.2,361.1" fill="none" stroke-width="2.58" />
<path d="M1475.2,358.1 L1485.8,358.1 Q1489.8,358.1 1489.8,363.1 Q1491.3999999999999,391.0 1489.8,418.9 Q1489.8,423.9 1485.8,423.9 L1475.2,423.9" fill="none" stroke-width="2.58" />
<rect x="1476.3" y="353.0" width="12.4" height="13.2" rx="3.2" fill="#fff" stroke="#000" stroke-width="2.46"/>
<path d="M1474,298.3 L1428.4,298.3 Q1423.4,298.3 1423.4,303.3 L1423.4,415.8 Q1423.4,420.8 1428.4,420.8 L1474,420.8 Z" fill="none" stroke-width="3.02" />
<rect x="1435.4" y="289.8" width="36.6" height="8.5" rx="0" fill="none" stroke-width="2.24"/>
<rect x="1435.4" y="420.8" width="36.6" height="7.6" rx="0" fill="none" stroke-width="2.24"/>
<line x1="1423.4" y1="359.6" x2="1474.0" y2="359.6" stroke-width="2.69" stroke-linecap="butt"/>
</g>
<g transform="translate(0 2.20)">
<rect x="1498.6" y="293.0" width="6.4" height="137.6" fill="#000" stroke="none"/>
</g>
<g transform="translate(0 2.20)">
<path d="M1527,291.0 L1510.6,291.0 L1510.6,427.2 L1527,427.2" fill="none" stroke-width="1.9" />
<path d="M1525.8,294.3 L1517.8,294.3 Q1513.8,294.3 1513.8,299.3 Q1512.2,327.70000000000005 1513.8,356.1 Q1513.8,361.1 1517.8,361.1 L1525.8,361.1" fill="none" stroke-width="2.58" />
<path d="M1525.8,358.1 L1517.8,358.1 Q1513.8,358.1 1513.8,363.1 Q1512.2,391.0 1513.8,418.9 Q1513.8,423.9 1517.8,423.9 L1525.8,423.9" fill="none" stroke-width="2.58" />
<rect x="1513.6" y="353.0" width="12.4" height="13.2" rx="3.2" fill="#fff" stroke="#000" stroke-width="2.46"/>
<path d="M1527,298.3 L1573,298.3 Q1578,298.3 1578,303.3 L1578,415.8 Q1578,420.8 1573,420.8 L1527,420.8 Z" fill="none" stroke-width="3.02" />
<rect x="1529.0" y="289.8" width="37.0" height="8.5" rx="0" fill="none" stroke-width="2.24"/>
<rect x="1529.0" y="420.8" width="37.0" height="7.6" rx="0" fill="none" stroke-width="2.24"/>
<line x1="1527.0" y1="359.6" x2="1578.0" y2="359.6" stroke-width="2.69" stroke-linecap="butt"/>
</g>
<g transform="translate(0 2.20)">
<path d="M1690.5,291.0 L1710.5,291.0 L1710.5,427.2 L1690.5,427.2" fill="none" stroke-width="1.9" />
<path d="M1691.7,294.3 L1703.3,294.3 Q1707.3,294.3 1707.3,299.3 Q1708.8999999999999,327.70000000000005 1707.3,356.1 Q1707.3,361.1 1703.3,361.1 L1691.7,361.1" fill="none" stroke-width="2.58" />
<path d="M1691.7,358.1 L1703.3,358.1 Q1707.3,358.1 1707.3,363.1 Q1708.8999999999999,391.0 1707.3,418.9 Q1707.3,423.9 1703.3,423.9 L1691.7,423.9" fill="none" stroke-width="2.58" />
<rect x="1693.3" y="353.0" width="12.4" height="13.2" rx="3.2" fill="#fff" stroke="#000" stroke-width="2.46"/>
<path d="M1690.5,298.3 L1647,298.3 Q1642,298.3 1642,303.3 L1642,415.8 Q1642,420.8 1647,420.8 L1690.5,420.8 Z" fill="none" stroke-width="3.02" />
<rect x="1654.0" y="289.8" width="34.5" height="8.5" rx="0" fill="none" stroke-width="2.24"/>
<rect x="1654.0" y="420.8" width="34.5" height="7.6" rx="0" fill="none" stroke-width="2.24"/>
<line x1="1642.0" y1="359.6" x2="1690.5" y2="359.6" stroke-width="2.69" stroke-linecap="butt"/>
</g>
<g transform="translate(0 2.20)">
<path d="M1748,291.0 L1729,291.0 L1729,427.2 L1748,427.2" fill="none" stroke-width="1.9" />
<path d="M1746.8,294.3 L1736.2,294.3 Q1732.2,294.3 1732.2,299.3 Q1730.6000000000001,327.70000000000005 1732.2,356.1 Q1732.2,361.1 1736.2,361.1 L1746.8,361.1" fill="none" stroke-width="2.58" />
<path d="M1746.8,358.1 L1736.2,358.1 Q1732.2,358.1 1732.2,363.1 Q1730.6000000000001,391.0 1732.2,418.9 Q1732.2,423.9 1736.2,423.9 L1746.8,423.9" fill="none" stroke-width="2.58" />
<rect x="1733.3" y="353.0" width="12.4" height="13.2" rx="3.2" fill="#fff" stroke="#000" stroke-width="2.46"/>
<path d="M1748,298.3 L1794,298.3 Q1799,298.3 1799,303.3 L1799,415.8 Q1799,420.8 1794,420.8 L1748,420.8 Z" fill="none" stroke-width="3.02" />
<rect x="1750.0" y="289.8" width="37.0" height="8.5" rx="0" fill="none" stroke-width="2.24"/>
<rect x="1750.0" y="420.8" width="37.0" height="7.6" rx="0" fill="none" stroke-width="2.24"/>
<line x1="1748.0" y1="359.6" x2="1799.0" y2="359.6" stroke-width="2.69" stroke-linecap="butt"/>
</g>
<g transform="translate(0 2.20)">
<path d="M1913.7,291.0 L1932.6,291.0 L1932.6,427.2 L1913.7,427.2" fill="none" stroke-width="1.9" />
<path d="M1914.9,294.3 L1925.3999999999999,294.3 Q1929.3999999999999,294.3 1929.3999999999999,299.3 Q1930.9999999999998,327.70000000000005 1929.3999999999999,356.1 Q1929.3999999999999,361.1 1925.3999999999999,361.1 L1914.9,361.1" fill="none" stroke-width="2.58" />
<path d="M1914.9,358.1 L1925.3999999999999,358.1 Q1929.3999999999999,358.1 1929.3999999999999,363.1 Q1930.9999999999998,391.0 1929.3999999999999,418.9 Q1929.3999999999999,423.9 1925.3999999999999,423.9 L1914.9,423.9" fill="none" stroke-width="2.58" />
<rect x="1916.0" y="353.0" width="12.4" height="13.2" rx="3.2" fill="#fff" stroke="#000" stroke-width="2.46"/>
<path d="M1913.7,298.3 L1870,298.3 Q1865,298.3 1865,303.3 L1865,415.8 Q1865,420.8 1870,420.8 L1913.7,420.8 Z" fill="none" stroke-width="3.02" />
<rect x="1877.0" y="289.8" width="34.7" height="8.5" rx="0" fill="none" stroke-width="2.24"/>
<rect x="1877.0" y="420.8" width="34.7" height="7.6" rx="0" fill="none" stroke-width="2.24"/>
<line x1="1865.0" y1="359.6" x2="1913.7" y2="359.6" stroke-width="2.69" stroke-linecap="butt"/>
</g>
<g transform="translate(0 2.20)">
<rect x="1937.0" y="293.0" width="6.3" height="137.6" fill="#000" stroke="none"/>
</g>
<g transform="translate(0 2.20)">
<path d="M1966,291.0 L1947,291.0 L1947,427.2 L1966,427.2" fill="none" stroke-width="1.9" />
<path d="M1964.8,294.3 L1954.2,294.3 Q1950.2,294.3 1950.2,299.3 Q1948.6000000000001,327.70000000000005 1950.2,356.1 Q1950.2,361.1 1954.2,361.1 L1964.8,361.1" fill="none" stroke-width="2.58" />
<path d="M1964.8,358.1 L1954.2,358.1 Q1950.2,358.1 1950.2,363.1 Q1948.6000000000001,391.0 1950.2,418.9 Q1950.2,423.9 1954.2,423.9 L1964.8,423.9" fill="none" stroke-width="2.58" />
<rect x="1951.3" y="353.0" width="12.4" height="13.2" rx="3.2" fill="#fff" stroke="#000" stroke-width="2.46"/>
<path d="M1966,298.3 L2012,298.3 Q2017,298.3 2017,303.3 L2017,415.8 Q2017,420.8 2012,420.8 L1966,420.8 Z" fill="none" stroke-width="3.02" />
<rect x="1968.0" y="289.8" width="37.0" height="8.5" rx="0" fill="none" stroke-width="2.24"/>
<rect x="1968.0" y="420.8" width="37.0" height="7.6" rx="0" fill="none" stroke-width="2.24"/>
<line x1="1966.0" y1="359.6" x2="2017.0" y2="359.6" stroke-width="2.69" stroke-linecap="butt"/>
</g>
<g transform="translate(0 2.20)">
<path d="M2134,291.0 L2153,291.0 L2153,427.2 L2134,427.2" fill="none" stroke-width="1.9" />
<path d="M2135.2,294.3 L2145.8,294.3 Q2149.8,294.3 2149.8,299.3 Q2151.4,327.70000000000005 2149.8,356.1 Q2149.8,361.1 2145.8,361.1 L2135.2,361.1" fill="none" stroke-width="2.58" />
<path d="M2135.2,358.1 L2145.8,358.1 Q2149.8,358.1 2149.8,363.1 Q2151.4,391.0 2149.8,418.9 Q2149.8,423.9 2145.8,423.9 L2135.2,423.9" fill="none" stroke-width="2.58" />
<rect x="2136.3" y="353.0" width="12.4" height="13.2" rx="3.2" fill="#fff" stroke="#000" stroke-width="2.46"/>
<path d="M2134,298.3 L2087,298.3 Q2082,298.3 2082,303.3 L2082,415.8 Q2082,420.8 2087,420.8 L2134,420.8 Z" fill="none" stroke-width="3.02" />
<rect x="2094.0" y="289.8" width="38.0" height="8.5" rx="0" fill="none" stroke-width="2.24"/>
<rect x="2094.0" y="420.8" width="38.0" height="7.6" rx="0" fill="none" stroke-width="2.24"/>
<line x1="2082.0" y1="359.6" x2="2134.0" y2="359.6" stroke-width="2.69" stroke-linecap="butt"/>
</g>
<g transform="translate(0 2.20)">
<path d="M1580,428.8 L1584,415.2 Q1585.5,411.2 1590,411.2 L1630,411.2 Q1634.5,411.2 1636,415.2 L1640,428.8" fill="none" stroke-width="2.8" />
<rect x="1590.0" y="411.2" width="17.0" height="3.6" rx="1.8" fill="none" stroke-width="2.02"/>
<rect x="1613.0" y="411.2" width="17.0" height="3.6" rx="1.8" fill="none" stroke-width="2.02"/>
</g>
<g transform="translate(0 2.20)">
<path d="M1801.5,428.8 L1805.5,415.2 Q1807.0,411.2 1811.5,411.2 L1849.8,411.2 Q1854.3,411.2 1855.8,415.2 L1859.8,428.8" fill="none" stroke-width="2.8" />
<rect x="1811.5" y="411.2" width="16.2" height="3.6" rx="1.8" fill="none" stroke-width="2.02"/>
<rect x="1833.7" y="411.2" width="16.1" height="3.6" rx="1.8" fill="none" stroke-width="2.02"/>
</g>
<g transform="translate(0 2.20)">
<path d="M2019.7,428.8 L2023.7,415.2 Q2025.2,411.2 2029.7,411.2 L2064.6,411.2 Q2069.1,411.2 2070.6,415.2 L2074.6,428.8" fill="none" stroke-width="2.8" />
<rect x="2029.7" y="411.2" width="14.5" height="3.6" rx="1.8" fill="none" stroke-width="2.02"/>
<rect x="2050.2" y="411.2" width="14.4" height="3.6" rx="1.8" fill="none" stroke-width="2.02"/>
</g>
<g transform="translate(0 2.20)">
<path d="M1362.4,429.20000000000005 L1366.5,414 L1369,412.5 M1413,412.5 L1416,414 L1420.4,429.20000000000005" fill="none" stroke-width="2.69" />
<rect x="1368.5" y="379.2" width="17.0" height="38.0" rx="4" fill="none" stroke-width="2.91"/>
<rect x="1396.5" y="379.2" width="17.0" height="38.0" rx="4" fill="none" stroke-width="2.91"/>
<line x1="1385.5" y1="408.5" x2="1396.5" y2="408.5" stroke-width="2.24" stroke-linecap="butt"/>
</g>
<circle cx="1392.5" cy="207.0" r="8.4" fill="none" stroke-width="2.46"/>
<line x1="1387.3" y1="201.8" x2="1397.7" y2="212.2" stroke-width="2.24" stroke-linecap="butt"/>
<line x1="1387.3" y1="212.2" x2="1397.7" y2="201.8" stroke-width="2.24" stroke-linecap="butt"/>
<circle cx="1611.0" cy="207.5" r="8.4" fill="none" stroke-width="2.46"/>
<line x1="1605.8" y1="202.3" x2="1616.2" y2="212.7" stroke-width="2.24" stroke-linecap="butt"/>
<line x1="1605.8" y1="212.7" x2="1616.2" y2="202.3" stroke-width="2.24" stroke-linecap="butt"/>
<circle cx="1832.5" cy="207.5" r="8.4" fill="none" stroke-width="2.46"/>
<line x1="1827.3" y1="202.3" x2="1837.7" y2="212.7" stroke-width="2.24" stroke-linecap="butt"/>
<line x1="1827.3" y1="212.7" x2="1837.7" y2="202.3" stroke-width="2.24" stroke-linecap="butt"/>
<circle cx="1609.0" cy="366.0" r="8.4" fill="none" stroke-width="2.46"/>
<line x1="1603.8" y1="360.8" x2="1614.2" y2="371.2" stroke-width="2.24" stroke-linecap="butt"/>
<line x1="1603.8" y1="371.2" x2="1614.2" y2="360.8" stroke-width="2.24" stroke-linecap="butt"/>
<circle cx="1829.7" cy="366.0" r="8.4" fill="none" stroke-width="2.46"/>
<line x1="1824.5" y1="360.8" x2="1834.9" y2="371.2" stroke-width="2.24" stroke-linecap="butt"/>
<line x1="1824.5" y1="371.2" x2="1834.9" y2="360.8" stroke-width="2.24" stroke-linecap="butt"/>
<path d="M1384,372 A8.4 8.4 0 1 1 1396,373 M1384,361 L1395,371 M1395,361 L1388,368" fill="none" stroke-width="2.24" />
<circle cx="2049.7" cy="207.5" r="7.6" fill="none" stroke-width="1.46"/>
<circle cx="2049.7" cy="207.5" r="7.6" stroke="#fff" stroke-width="2" stroke-dasharray="3 5" fill="none"/>
<circle cx="2049.7" cy="207.5" r="1.3" fill="#000" stroke-width="1.34"/>
<path d="M2042,360 A8 8 0 0 0 2042,372 M2052,360 A8 8 0 0 1 2052,372" fill="none" stroke-width="1.79" stroke-dasharray="4 3"/>
<line x1="104.0" y1="77.2" x2="500.0" y2="78.2" stroke-width="2.46" stroke-linecap="butt"/>
<line x1="500.0" y1="78.2" x2="1200.0" y2="78.9" stroke-width="2.46" stroke-linecap="butt"/>
<line x1="1200.0" y1="78.9" x2="1290.0" y2="78.7" stroke-width="2.24" stroke-linecap="butt"/>
<line x1="1290.0" y1="78.7" x2="1590.0" y2="78.2" stroke-width="1.68" stroke-linecap="butt"/>
<line x1="1590.0" y1="78.2" x2="2160.0" y2="78.3" stroke-width="1.79" stroke-linecap="butt" stroke-dasharray="70 9 22 7 48 12 9 6"/>
<line x1="2191.0" y1="78.3" x2="2200.0" y2="78.3" stroke-width="2.02" stroke-linecap="butt"/>
<rect x="133.0" y="69.0" width="7.3" height="65.0" fill="#000" stroke="none"/>
<line x1="136.7" y1="70.0" x2="136.7" y2="122.0" stroke="#fff" stroke-width="0.9" stroke-dasharray="9 5 3 7"/>
<rect x="238.0" y="69.0" width="7.0" height="63.0" fill="#000" stroke="none"/>
<line x1="241.5" y1="70.0" x2="241.5" y2="120.0" stroke="#fff" stroke-width="0.9" stroke-dasharray="9 5 3 7"/>
<rect x="760.2" y="70.0" width="5.8" height="63.0" fill="#000" stroke="none"/>
<rect x="1115.8" y="69.0" width="7.0" height="64.0" fill="#000" stroke="none"/>
<line x1="1119.3" y1="70.0" x2="1119.3" y2="121.0" stroke="#fff" stroke-width="0.9" stroke-dasharray="9 5 3 7"/>
<rect x="1279.0" y="69.0" width="6.4" height="64.0" fill="#000" stroke="none"/>
<line x1="1282.2" y1="70.0" x2="1282.2" y2="121.0" stroke="#fff" stroke-width="0.9" stroke-dasharray="9 5 3 7"/>
<line x1="1721.0" y1="71.0" x2="1721.0" y2="126.0" stroke-width="1.46" stroke-linecap="butt"/>
<line x1="1725.6" y1="71.0" x2="1725.6" y2="126.0" stroke-width="1.46" stroke-linecap="butt"/>
<rect x="2160.0" y="72.0" width="3.4" height="34.0" fill="#000" stroke="none"/>
<line x1="2161.2" y1="106.0" x2="2161.2" y2="128.0" stroke-width="1.57" stroke-linecap="butt" stroke-dasharray="10 4 7 3"/>
<line x1="2164.6" y1="84.0" x2="2164.6" y2="126.0" stroke-width="1.46" stroke-linecap="butt" stroke-dasharray="9 5 6 4"/>
<path d="M0,0 L-2.10,-0.72 Q-8.40,-2.48 -14.70,-4.41 L-18.48,-4.50 Q-21.00,-4.50 -21.00,0 Q-21.00,4.50 -18.48,4.50 L-14.70,4.41 Q-8.40,2.48 -2.10,0.72 Z" transform="translate(134.5 77.3) rotate(0)" fill="#000" stroke="none"/>
<path d="M0,0 L-2.10,-0.72 Q-8.40,-2.48 -14.70,-4.41 L-18.48,-4.50 Q-21.00,-4.50 -21.00,0 Q-21.00,4.50 -18.48,4.50 L-14.70,4.41 Q-8.40,2.48 -2.10,0.72 Z" transform="translate(139.5 77.3) rotate(180)" fill="#000" stroke="none"/>
<path d="M0,0 L-2.00,-0.80 Q-8.00,-2.75 -14.00,-4.90 L-17.60,-5.00 Q-20.00,-5.00 -20.00,0 Q-20.00,5.00 -17.60,5.00 L-14.00,4.90 Q-8.00,2.75 -2.00,0.80 Z" transform="translate(238.5 77.5) rotate(0)" fill="#000" stroke="none"/>
<path d="M0,0 L-2.00,-0.80 Q-8.00,-2.75 -14.00,-4.90 L-17.60,-5.00 Q-20.00,-5.00 -20.00,0 Q-20.00,5.00 -17.60,5.00 L-14.00,4.90 Q-8.00,2.75 -2.00,0.80 Z" transform="translate(244.5 77.5) rotate(180)" fill="#000" stroke="none"/>
<path d="M0,0 L-2.10,-0.72 Q-8.40,-2.48 -14.70,-4.41 L-18.48,-4.50 Q-21.00,-4.50 -21.00,0 Q-21.00,4.50 -18.48,4.50 L-14.70,4.41 Q-8.40,2.48 -2.10,0.72 Z" transform="translate(761.0 78.5) rotate(0)" fill="#000" stroke="none"/>
<path d="M0,0 L-2.10,-0.72 Q-8.40,-2.48 -14.70,-4.41 L-18.48,-4.50 Q-21.00,-4.50 -21.00,0 Q-21.00,4.50 -18.48,4.50 L-14.70,4.41 Q-8.40,2.48 -2.10,0.72 Z" transform="translate(765.5 78.5) rotate(180)" fill="#000" stroke="none"/>
<path d="M0,0 L-2.00,-0.72 Q-8.00,-2.48 -14.00,-4.41 L-17.60,-4.50 Q-20.00,-4.50 -20.00,0 Q-20.00,4.50 -17.60,4.50 L-14.00,4.41 Q-8.00,2.48 -2.00,0.72 Z" transform="translate(1117.0 78.8) rotate(0)" fill="#000" stroke="none"/>
<path d="M0,0 L-2.00,-0.72 Q-8.00,-2.48 -14.00,-4.41 L-17.60,-4.50 Q-20.00,-4.50 -20.00,0 Q-20.00,4.50 -17.60,4.50 L-14.00,4.41 Q-8.00,2.48 -2.00,0.72 Z" transform="translate(1122.0 78.8) rotate(180)" fill="#000" stroke="none"/>
<path d="M0,0 L-2.00,-0.72 Q-8.00,-2.48 -14.00,-4.41 L-17.60,-4.50 Q-20.00,-4.50 -20.00,0 Q-20.00,4.50 -17.60,4.50 L-14.00,4.41 Q-8.00,2.48 -2.00,0.72 Z" transform="translate(1280.0 78.8) rotate(0)" fill="#000" stroke="none"/>
<path d="M0,0 L-2.00,-0.72 Q-8.00,-2.48 -14.00,-4.41 L-17.60,-4.50 Q-20.00,-4.50 -20.00,0 Q-20.00,4.50 -17.60,4.50 L-14.00,4.41 Q-8.00,2.48 -2.00,0.72 Z" transform="translate(1285.0 78.8) rotate(180)" fill="#000" stroke="none"/>
<path d="M0,0 L-2.10,-0.64 Q-8.40,-2.20 -14.70,-3.92 L-18.48,-4.00 Q-21.00,-4.00 -21.00,0 Q-21.00,4.00 -18.48,4.00 L-14.70,3.92 Q-8.40,2.20 -2.10,0.64 Z" transform="translate(1721.0 78.0) rotate(0)" fill="#000" stroke="none"/>
<path d="M0,0 L-2.10,-0.64 Q-8.40,-2.20 -14.70,-3.92 L-18.48,-4.00 Q-21.00,-4.00 -21.00,0 Q-21.00,4.00 -18.48,4.00 L-14.70,3.92 Q-8.40,2.20 -2.10,0.64 Z" transform="translate(1726.0 78.0) rotate(180)" fill="#000" stroke="none"/>
<path d="M0,0 L-2.10,-0.64 Q-8.40,-2.20 -14.70,-3.92 L-18.48,-4.00 Q-21.00,-4.00 -21.00,0 Q-21.00,4.00 -18.48,4.00 L-14.70,3.92 Q-8.40,2.20 -2.10,0.64 Z" transform="translate(2160.0 78.3) rotate(0)" fill="#000" stroke="none"/>
<path d="M0,0 L-2.10,-0.64 Q-8.40,-2.20 -14.70,-3.92 L-18.48,-4.00 Q-21.00,-4.00 -21.00,0 Q-21.00,4.00 -18.48,4.00 L-14.70,3.92 Q-8.40,2.20 -2.10,0.64 Z" transform="translate(2164.5 78.3) rotate(180)" fill="#000" stroke="none"/>
<path d="M0,0 L-2.20,-0.70 Q-8.80,-2.42 -15.40,-4.31 L-19.36,-4.40 Q-22.00,-4.40 -22.00,0 Q-22.00,4.40 -19.36,4.40 L-15.40,4.31 Q-8.80,2.42 -2.20,0.70 Z" transform="translate(2266.0 78.4) rotate(0)" fill="#000" stroke="none"/>
<path d="M0,0 L-2.20,-0.70 Q-8.80,-2.42 -15.40,-4.31 L-19.36,-4.40 Q-22.00,-4.40 -22.00,0 Q-22.00,4.40 -19.36,4.40 L-15.40,4.31 Q-8.80,2.42 -2.20,0.70 Z" transform="translate(2268.0 78.4) rotate(180)" fill="#000" stroke="none"/>
<line x1="2250.0" y1="78.4" x2="2285.0" y2="78.4" stroke-width="2.69" stroke-linecap="butt"/>
<text x="0" y="8.41" font-size="23.5" font-weight="bold" text-anchor="middle" transform="translate(116.5 95.0) rotate(180) scale(0.9 1)" stroke="none" fill="#000">30</text>
<text x="0" y="8.95" font-size="25" font-weight="bold" text-anchor="middle" transform="translate(187.8 90.5) rotate(180) scale(0.9 1)" stroke="none" fill="#000">960</text>
<text x="0" y="8.41" font-size="23.5" font-weight="bold" text-anchor="middle" transform="translate(259.2 95.0) rotate(180) scale(0.9 1)" stroke="none" fill="#000">30</text>
<text x="0" y="8.41" font-size="23.5" font-weight="bold" text-anchor="middle" transform="translate(497.0 92.3) rotate(180) scale(0.93 1)" stroke="none" fill="#000">4950</text>
<text x="0" y="8.41" font-size="23.5" font-weight="bold" text-anchor="middle" transform="translate(783.0 94.0) rotate(180) scale(0.9 1)" stroke="none" fill="#000">30</text>
<text x="0" y="8.41" font-size="23.5" font-weight="bold" text-anchor="middle" transform="translate(931.5 93.2) rotate(180) scale(0.93 1)" stroke="none" fill="#000">3300</text>
<text x="0" y="8.41" font-size="23.5" font-weight="bold" text-anchor="middle" transform="translate(1100.5 94.0) rotate(180) scale(0.9 1)" stroke="none" fill="#000">38</text>
<text x="0" y="8.41" font-size="23.5" font-weight="bold" text-anchor="middle" transform="translate(1192.3 92.6) rotate(180) scale(0.93 1)" stroke="none" fill="#000">1474</text>
<text x="0" y="8.41" font-size="23.5" font-weight="bold" text-anchor="middle" transform="translate(1300.0 94.0) rotate(180) scale(0.9 1)" stroke="none" fill="#000">38</text>
<text x="0" y="8.05" font-size="22.5" font-weight="bold" text-anchor="middle" transform="translate(1497.5 92.0) rotate(180) scale(0.9 1)" stroke="none" fill="#000">4100</text>
<text x="0" y="8.41" font-size="23.5" font-weight="bold" text-anchor="middle" transform="translate(1701.5 94.5) rotate(180) scale(0.9 1)" stroke="none" fill="#000">30</text>
<text x="0" y="8.05" font-size="22.5" font-weight="bold" text-anchor="middle" transform="translate(1937.5 92.0) rotate(180) scale(0.9 1)" stroke="none" fill="#000">4100</text>
<text x="0" y="8.41" font-size="23.5" font-weight="bold" text-anchor="middle" transform="translate(2142.0 94.5) rotate(180) scale(0.9 1)" stroke="none" fill="#000">30</text>
<text x="0" y="8.41" font-size="23.5" font-weight="bold" text-anchor="middle" transform="translate(2215.6 91.7) rotate(180) scale(0.93 1)" stroke="none" fill="#000">960</text>
<text x="0" y="8.41" font-size="23.5" font-weight="bold" text-anchor="middle" transform="translate(2298.5 94.0) rotate(180) scale(0.9 1)" stroke="none" fill="#000">30</text>
<path d="M7.4,129 L11.4,129 L8.3,438.6 L4.5,438.6 Z" fill="#000" stroke-width="0.67" />
<g transform="rotate(0.6 9.4 128.5)">
<path d="M0,0 L-2.20,-0.70 Q-8.80,-2.42 -15.40,-4.31 L-19.36,-4.40 Q-22.00,-4.40 -22.00,0 Q-22.00,4.40 -19.36,4.40 L-15.40,4.31 Q-8.80,2.42 -2.20,0.70 Z" transform="translate(9.4 128.3) rotate(-90)" fill="#000" stroke="none"/>
</g>
<g transform="rotate(0.6 6.4 439)">
<path d="M0,0 L-2.20,-0.70 Q-8.80,-2.42 -15.40,-4.31 L-19.36,-4.40 Q-22.00,-4.40 -22.00,0 Q-22.00,4.40 -19.36,4.40 L-15.40,4.31 Q-8.80,2.42 -2.20,0.70 Z" transform="translate(6.4 439.0) rotate(90)" fill="#000" stroke="none"/>
</g>
<line x1="7.2" y1="128.7" x2="113.0" y2="128.7" stroke-width="2.24" stroke-linecap="butt"/>
<line x1="2.5" y1="438.5" x2="111.0" y2="438.5" stroke-width="2.24" stroke-linecap="butt"/>
<text x="0" y="8.95" font-size="25" font-weight="bold" text-anchor="middle" transform="translate(22.2 282.5) rotate(90) scale(0.9031766944810423 1)" stroke="none" fill="#000">2920</text>
<text x="0" y="8.05" font-size="22.5" font-weight="bold" text-anchor="middle" transform="translate(2398.6 290.0) rotate(90) scale(0.874444932415947 1)" stroke="none" fill="#000">1750</text>
<path d="M0,0 L-2.40,-0.67 Q-9.60,-2.31 -16.80,-4.12 L-21.12,-4.20 Q-24.00,-4.20 -24.00,0 Q-24.00,4.20 -21.12,4.20 L-16.80,4.12 Q-9.60,2.31 -2.40,0.67 Z" transform="translate(2385.8 195.5) rotate(-90)" fill="#000" stroke="none"/>
<line x1="2385.8" y1="222.0" x2="2385.7" y2="245.0" stroke-width="1.79" stroke-linecap="butt" stroke-dasharray="4 5"/>
<line x1="2385.6" y1="258.0" x2="2385.4" y2="303.0" stroke-width="1.9" stroke-linecap="butt" stroke-dasharray="6 4 3 4"/>
<line x1="2385.2" y1="316.0" x2="2385.0" y2="352.0" stroke-width="1.57" stroke-linecap="butt" stroke-dasharray="2 8"/>
<path d="M0,0 L-2.10,-0.67 Q-8.40,-2.31 -14.70,-4.12 L-18.48,-4.20 Q-21.00,-4.20 -21.00,0 Q-21.00,4.20 -18.48,4.20 L-14.70,4.12 Q-8.40,2.31 -2.10,0.67 Z" transform="translate(2384.5 380.5) rotate(90)" fill="#000" stroke="none"/>
<line x1="2337.0" y1="378.0" x2="2368.0" y2="377.2" stroke-width="1.9" stroke-linecap="butt"/>
<line x1="2346.0" y1="286.4" x2="2369.0" y2="287.2" stroke-width="1.68" stroke-linecap="butt"/>
<line x1="620.8" y1="92.0" x2="614.1" y2="480.0" stroke-width="2.46" stroke-linecap="butt"/>
<path d="M0,0 L-2.00,-0.72 Q-8.00,-2.48 -14.00,-4.41 L-17.60,-4.50 Q-20.00,-4.50 -20.00,0 Q-20.00,4.50 -17.60,4.50 L-14.00,4.41 Q-8.00,2.48 -2.00,0.72 Z" transform="translate(620.1 131.8) rotate(90)" fill="#000" stroke="none"/>
<path d="M0,0 L-1.70,-0.72 Q-6.80,-2.48 -11.90,-4.41 L-14.96,-4.50 Q-17.00,-4.50 -17.00,0 Q-17.00,4.50 -14.96,4.50 L-11.90,4.41 Q-6.80,2.48 -1.70,0.72 Z" transform="translate(619.9 143.2) rotate(-90)" fill="#000" stroke="none"/>
<path d="M0,0 L-1.70,-0.72 Q-6.80,-2.48 -11.90,-4.41 L-14.96,-4.50 Q-17.00,-4.50 -17.00,0 Q-17.00,4.50 -14.96,4.50 L-11.90,4.41 Q-6.80,2.48 -1.70,0.72 Z" transform="translate(618.1 247.0) rotate(90)" fill="#000" stroke="none"/>
<path d="M0,0 L-1.90,-0.72 Q-7.60,-2.48 -13.30,-4.41 L-16.72,-4.50 Q-19.00,-4.50 -19.00,0 Q-19.00,4.50 -16.72,4.50 L-13.30,4.41 Q-7.60,2.48 -1.90,0.72 Z" transform="translate(618.0 255.5) rotate(-90)" fill="#000" stroke="none"/>
<path d="M0,0 L-1.90,-0.72 Q-7.60,-2.48 -13.30,-4.41 L-16.72,-4.50 Q-19.00,-4.50 -19.00,0 Q-19.00,4.50 -16.72,4.50 L-13.30,4.41 Q-7.60,2.48 -1.90,0.72 Z" transform="translate(617.0 313.5) rotate(90)" fill="#000" stroke="none"/>
<path d="M0,0 L-1.70,-0.72 Q-6.80,-2.48 -11.90,-4.41 L-14.96,-4.50 Q-17.00,-4.50 -17.00,0 Q-17.00,4.50 -14.96,4.50 L-11.90,4.41 Q-6.80,2.48 -1.70,0.72 Z" transform="translate(616.9 321.5) rotate(-90)" fill="#000" stroke="none"/>
<path d="M0,0 L-1.70,-0.72 Q-6.80,-2.48 -11.90,-4.41 L-14.96,-4.50 Q-17.00,-4.50 -17.00,0 Q-17.00,4.50 -14.96,4.50 L-11.90,4.41 Q-6.80,2.48 -1.70,0.72 Z" transform="translate(615.0 430.0) rotate(90)" fill="#000" stroke="none"/>
<path d="M0,0 L-1.90,-0.72 Q-7.60,-2.48 -13.30,-4.41 L-16.72,-4.50 Q-19.00,-4.50 -19.00,0 Q-19.00,4.50 -16.72,4.50 L-13.30,4.41 Q-7.60,2.48 -1.90,0.72 Z" transform="translate(614.8 440.6) rotate(-90)" fill="#000" stroke="none"/>
<text x="0" y="8.05" font-size="22.5" font-weight="bold" text-anchor="middle" transform="translate(636.2 106.9) rotate(90) scale(0.8024416398581209 1)" stroke="none" fill="#000">100</text>
<text x="0" y="8.05" font-size="22.5" font-weight="bold" text-anchor="middle" transform="translate(631.4 197.0) rotate(90) scale(0.8952650498544219 1)" stroke="none" fill="#000">1085</text>
<text x="0" y="8.05" font-size="22.5" font-weight="bold" text-anchor="middle" transform="translate(634.1 286.1) rotate(90) scale(0.9488520443234624 1)" stroke="none" fill="#000">550</text>
<text x="0" y="8.05" font-size="22.5" font-weight="bold" text-anchor="middle" transform="translate(629.0 371.5) rotate(90) scale(0.9035930968298118 1)" stroke="none" fill="#000">1085</text>
<text x="0" y="8.05" font-size="22.5" font-weight="bold" text-anchor="middle" transform="translate(630.8 462.0) rotate(90) scale(0.8108883939618906 1)" stroke="none" fill="#000">100</text>
<line x1="236.8" y1="438.0" x2="236.8" y2="483.0" stroke-width="2.46" stroke-linecap="butt"/>
<line x1="299.1" y1="438.0" x2="299.1" y2="483.0" stroke-width="2.91" stroke-linecap="butt"/>
<line x1="348.6" y1="438.0" x2="348.6" y2="483.0" stroke-width="4.03" stroke-linecap="butt"/>
<line x1="410.7" y1="438.0" x2="410.7" y2="483.0" stroke-width="4.03" stroke-linecap="butt"/>
<line x1="583.5" y1="438.0" x2="583.5" y2="483.0" stroke-width="2.91" stroke-linecap="butt"/>
<line x1="236.8" y1="471.8" x2="583.5" y2="471.8" stroke-width="2.24" stroke-linecap="butt"/>
<path d="M0,0 L-1.70,-0.64 Q-6.80,-2.20 -11.90,-3.92 L-14.96,-4.00 Q-17.00,-4.00 -17.00,0 Q-17.00,4.00 -14.96,4.00 L-11.90,3.92 Q-6.80,2.20 -1.70,0.64 Z" transform="translate(238.0 471.8) rotate(180)" fill="#000" stroke="none"/>
<path d="M0,0 L-1.70,-0.64 Q-6.80,-2.20 -11.90,-3.92 L-14.96,-4.00 Q-17.00,-4.00 -17.00,0 Q-17.00,4.00 -14.96,4.00 L-11.90,3.92 Q-6.80,2.20 -1.70,0.64 Z" transform="translate(297.8 471.8) rotate(0)" fill="#000" stroke="none"/>
<path d="M0,0 L-1.70,-0.64 Q-6.80,-2.20 -11.90,-3.92 L-14.96,-4.00 Q-17.00,-4.00 -17.00,0 Q-17.00,4.00 -14.96,4.00 L-11.90,3.92 Q-6.80,2.20 -1.70,0.64 Z" transform="translate(300.4 471.8) rotate(180)" fill="#000" stroke="none"/>
<path d="M0,0 L-1.70,-0.64 Q-6.80,-2.20 -11.90,-3.92 L-14.96,-4.00 Q-17.00,-4.00 -17.00,0 Q-17.00,4.00 -14.96,4.00 L-11.90,3.92 Q-6.80,2.20 -1.70,0.64 Z" transform="translate(346.8 471.8) rotate(0)" fill="#000" stroke="none"/>
<path d="M0,0 L-1.70,-0.64 Q-6.80,-2.20 -11.90,-3.92 L-14.96,-4.00 Q-17.00,-4.00 -17.00,0 Q-17.00,4.00 -14.96,4.00 L-11.90,3.92 Q-6.80,2.20 -1.70,0.64 Z" transform="translate(350.4 471.8) rotate(180)" fill="#000" stroke="none"/>
<path d="M0,0 L-1.70,-0.64 Q-6.80,-2.20 -11.90,-3.92 L-14.96,-4.00 Q-17.00,-4.00 -17.00,0 Q-17.00,4.00 -14.96,4.00 L-11.90,3.92 Q-6.80,2.20 -1.70,0.64 Z" transform="translate(408.9 471.8) rotate(0)" fill="#000" stroke="none"/>
<path d="M0,0 L-2.10,-0.64 Q-8.40,-2.20 -14.70,-3.92 L-18.48,-4.00 Q-21.00,-4.00 -21.00,0 Q-21.00,4.00 -18.48,4.00 L-14.70,3.92 Q-8.40,2.20 -2.10,0.64 Z" transform="translate(412.5 471.8) rotate(180)" fill="#000" stroke="none"/>
<path d="M0,0 L-2.10,-0.64 Q-8.40,-2.20 -14.70,-3.92 L-18.48,-4.00 Q-21.00,-4.00 -21.00,0 Q-21.00,4.00 -18.48,4.00 L-14.70,3.92 Q-8.40,2.20 -2.10,0.64 Z" transform="translate(582.0 471.8) rotate(0)" fill="#000" stroke="none"/>
<text x="0" y="8.41" font-size="23.5" font-weight="bold" text-anchor="middle" transform="translate(268.5 487.3) rotate(180) scale(0.93 1)" stroke="none" fill="#000">580</text>
<text x="0" y="8.41" font-size="23.5" font-weight="bold" text-anchor="middle" transform="translate(321.3 487.3) rotate(180) scale(0.93 1)" stroke="none" fill="#000">490</text>
<text x="0" y="8.41" font-size="23.5" font-weight="bold" text-anchor="middle" transform="translate(379.3 487.3) rotate(180) scale(0.93 1)" stroke="none" fill="#000">580</text>
<text x="0" y="8.41" font-size="23.5" font-weight="bold" text-anchor="middle" transform="translate(488.4 487.3) rotate(180) scale(0.93 1)" stroke="none" fill="#000">1650</text>
<line x1="1143.7" y1="422.0" x2="1143.7" y2="483.0" stroke-width="2.46" stroke-linecap="butt"/>
<line x1="1247.6" y1="439.0" x2="1247.6" y2="483.0" stroke-width="2.46" stroke-linecap="butt"/>
<line x1="1143.7" y1="473.7" x2="1247.6" y2="473.7" stroke-width="2.24" stroke-linecap="butt"/>
<path d="M0,0 L-2.00,-0.64 Q-8.00,-2.20 -14.00,-3.92 L-17.60,-4.00 Q-20.00,-4.00 -20.00,0 Q-20.00,4.00 -17.60,4.00 L-14.00,3.92 Q-8.00,2.20 -2.00,0.64 Z" transform="translate(1145.0 473.7) rotate(180)" fill="#000" stroke="none"/>
<path d="M0,0 L-2.00,-0.64 Q-8.00,-2.20 -14.00,-3.92 L-17.60,-4.00 Q-20.00,-4.00 -20.00,0 Q-20.00,4.00 -17.60,4.00 L-14.00,3.92 Q-8.00,2.20 -2.00,0.64 Z" transform="translate(1246.4 473.7) rotate(0)" fill="#000" stroke="none"/>
<text x="0" y="8.41" font-size="23.5" font-weight="bold" text-anchor="middle" transform="translate(1196.5 489.3) rotate(180) scale(0.93 1)" stroke="none" fill="#000">1000</text>
<line x1="1196.3" y1="294.0" x2="1195.7" y2="468.0" stroke-width="2.46" stroke-linecap="butt"/>
<path d="M0,0 L-1.50,-0.67 Q-6.00,-2.31 -10.50,-4.12 L-13.20,-4.20 Q-15.00,-4.20 -15.00,0 Q-15.00,4.20 -13.20,4.20 L-10.50,4.12 Q-6.00,2.31 -1.50,0.67 Z" transform="translate(1196.3 327.5) rotate(90)" fill="#000" stroke="none"/>
<path d="M0,0 L-1.70,-0.74 Q-6.80,-2.53 -11.90,-4.51 L-14.96,-4.60 Q-17.00,-4.60 -17.00,0 Q-17.00,4.60 -14.96,4.60 L-11.90,4.51 Q-6.80,2.53 -1.70,0.74 Z" transform="translate(1196.3 331.0) rotate(-90)" fill="#000" stroke="none"/>
<path d="M0,0 L-1.70,-0.74 Q-6.80,-2.53 -11.90,-4.51 L-14.96,-4.60 Q-17.00,-4.60 -17.00,0 Q-17.00,4.60 -14.96,4.60 L-11.90,4.51 Q-6.80,2.53 -1.70,0.74 Z" transform="translate(1196.0 432.8) rotate(90)" fill="#000" stroke="none"/>
<path d="M0,0 L-1.50,-0.67 Q-6.00,-2.31 -10.50,-4.12 L-13.20,-4.20 Q-15.00,-4.20 -15.00,0 Q-15.00,4.20 -13.20,4.20 L-10.50,4.12 Q-6.00,2.31 -1.50,0.67 Z" transform="translate(1195.9 442.0) rotate(-90)" fill="#000" stroke="none"/>
<text x="0" y="8.05" font-size="22.5" font-weight="bold" text-anchor="middle" transform="translate(1212.5 308.3) rotate(90) scale(0.9303241802095539 1)" stroke="none" fill="#000">37</text>
<text x="0" y="8.05" font-size="22.5" font-weight="bold" text-anchor="middle" transform="translate(1209.2 382.2) rotate(90) scale(0.9798234760372844 1)" stroke="none" fill="#000">990</text>
<text x="0" y="8.05" font-size="22.5" font-weight="bold" text-anchor="middle" transform="translate(1211.4 457.0) rotate(90) scale(0.9346714894628696 1)" stroke="none" fill="#000">85</text>
<line x1="1545.0" y1="440.0" x2="1545.0" y2="487.0" stroke-width="2.46" stroke-linecap="butt"/>
<line x1="1670.6" y1="440.0" x2="1670.6" y2="487.0" stroke-width="2.46" stroke-linecap="butt"/>
<line x1="1545.0" y1="476.5" x2="1670.6" y2="476.5" stroke-width="2.24" stroke-linecap="butt"/>
<path d="M0,0 L-2.00,-0.64 Q-8.00,-2.20 -14.00,-3.92 L-17.60,-4.00 Q-20.00,-4.00 -20.00,0 Q-20.00,4.00 -17.60,4.00 L-14.00,3.92 Q-8.00,2.20 -2.00,0.64 Z" transform="translate(1546.5 476.5) rotate(180)" fill="#000" stroke="none"/>
<path d="M0,0 L-2.00,-0.64 Q-8.00,-2.20 -14.00,-3.92 L-17.60,-4.00 Q-20.00,-4.00 -20.00,0 Q-20.00,4.00 -17.60,4.00 L-14.00,3.92 Q-8.00,2.20 -2.00,0.64 Z" transform="translate(1669.0 476.5) rotate(0)" fill="#000" stroke="none"/>
<text x="0" y="8.05" font-size="22.5" font-weight="bold" text-anchor="middle" transform="translate(1608.5 489.5) rotate(180) scale(0.93 1)" stroke="none" fill="#000">1200</text>
<line x1="1720.5" y1="441.0" x2="1720.5" y2="485.5" stroke-width="2.46" stroke-linecap="butt"/>
<line x1="1940.7" y1="441.0" x2="1940.7" y2="485.5" stroke-width="2.46" stroke-linecap="butt"/>
<line x1="2013.6" y1="441.0" x2="2013.6" y2="485.5" stroke-width="2.46" stroke-linecap="butt"/>
<line x1="2081.0" y1="441.0" x2="2081.0" y2="485.5" stroke-width="2.46" stroke-linecap="butt"/>
<line x1="2157.8" y1="441.0" x2="2157.8" y2="485.5" stroke-width="2.46" stroke-linecap="butt"/>
<line x1="1720.5" y1="477.0" x2="2157.8" y2="477.0" stroke-width="2.24" stroke-linecap="butt"/>
<path d="M0,0 L-2.00,-0.64 Q-8.00,-2.20 -14.00,-3.92 L-17.60,-4.00 Q-20.00,-4.00 -20.00,0 Q-20.00,4.00 -17.60,4.00 L-14.00,3.92 Q-8.00,2.20 -2.00,0.64 Z" transform="translate(1722.0 477.0) rotate(180)" fill="#000" stroke="none"/>
<path d="M0,0 L-2.00,-0.64 Q-8.00,-2.20 -14.00,-3.92 L-17.60,-4.00 Q-20.00,-4.00 -20.00,0 Q-20.00,4.00 -17.60,4.00 L-14.00,3.92 Q-8.00,2.20 -2.00,0.64 Z" transform="translate(1939.0 477.0) rotate(0)" fill="#000" stroke="none"/>
<path d="M0,0 L-1.60,-0.64 Q-6.40,-2.20 -11.20,-3.92 L-14.08,-4.00 Q-16.00,-4.00 -16.00,0 Q-16.00,4.00 -14.08,4.00 L-11.20,3.92 Q-6.40,2.20 -1.60,0.64 Z" transform="translate(1942.5 477.0) rotate(180)" fill="#000" stroke="none"/>
<path d="M0,0 L-1.60,-0.64 Q-6.40,-2.20 -11.20,-3.92 L-14.08,-4.00 Q-16.00,-4.00 -16.00,0 Q-16.00,4.00 -14.08,4.00 L-11.20,3.92 Q-6.40,2.20 -1.60,0.64 Z" transform="translate(2012.0 477.0) rotate(0)" fill="#000" stroke="none"/>
<path d="M0,0 L-1.60,-0.64 Q-6.40,-2.20 -11.20,-3.92 L-14.08,-4.00 Q-16.00,-4.00 -16.00,0 Q-16.00,4.00 -14.08,4.00 L-11.20,3.92 Q-6.40,2.20 -1.60,0.64 Z" transform="translate(2015.2 477.0) rotate(180)" fill="#000" stroke="none"/>
<path d="M0,0 L-1.60,-0.64 Q-6.40,-2.20 -11.20,-3.92 L-14.08,-4.00 Q-16.00,-4.00 -16.00,0 Q-16.00,4.00 -14.08,4.00 L-11.20,3.92 Q-6.40,2.20 -1.60,0.64 Z" transform="translate(2079.5 477.0) rotate(0)" fill="#000" stroke="none"/>
<path d="M0,0 L-1.60,-0.64 Q-6.40,-2.20 -11.20,-3.92 L-14.08,-4.00 Q-16.00,-4.00 -16.00,0 Q-16.00,4.00 -14.08,4.00 L-11.20,3.92 Q-6.40,2.20 -1.60,0.64 Z" transform="translate(2082.5 477.0) rotate(180)" fill="#000" stroke="none"/>
<path d="M0,0 L-1.60,-0.64 Q-6.40,-2.20 -11.20,-3.92 L-14.08,-4.00 Q-16.00,-4.00 -16.00,0 Q-16.00,4.00 -14.08,4.00 L-11.20,3.92 Q-6.40,2.20 -1.60,0.64 Z" transform="translate(2156.3 477.0) rotate(0)" fill="#000" stroke="none"/>
<text x="0" y="8.41" font-size="23.5" font-weight="bold" text-anchor="middle" transform="translate(1825.6 488.7) rotate(180) scale(0.97 1)" stroke="none" fill="#000">2050</text>
<text x="0" y="7.88" font-size="22" font-weight="bold" text-anchor="middle" transform="translate(1979.0 492.4) rotate(180) scale(0.99 1)" stroke="none" fill="#000">695</text>
<text x="0" y="7.88" font-size="22" font-weight="bold" text-anchor="middle" transform="translate(2047.5 494.3) rotate(180) scale(1.1 1)" stroke="none" fill="#000">645</text>
<text x="0" y="7.88" font-size="22" font-weight="bold" text-anchor="middle" transform="translate(2120.5 493.0) rotate(180) scale(0.9 1)" stroke="none" fill="#000">710</text>
<line x1="1887.3" y1="144.0" x2="1887.2" y2="166.0" stroke-width="2.02" stroke-linecap="butt"/>
<line x1="1886.8" y1="196.0" x2="1886.6" y2="236.0" stroke-width="2.02" stroke-linecap="butt"/>
<path d="M0,0 L-1.90,-0.74 Q-7.60,-2.53 -13.30,-4.51 L-16.72,-4.60 Q-19.00,-4.60 -19.00,0 Q-19.00,4.60 -16.72,4.60 L-13.30,4.51 Q-7.60,2.53 -1.90,0.74 Z" transform="translate(1887.4 144.5) rotate(-90)" fill="#000" stroke="none"/>
<path d="M0,0 L-1.80,-0.77 Q-7.20,-2.64 -12.60,-4.70 L-15.84,-4.80 Q-18.00,-4.80 -18.00,0 Q-18.00,4.80 -15.84,4.80 L-12.60,4.70 Q-7.20,2.64 -1.80,0.77 Z" transform="translate(1886.8 217.5) rotate(90)" fill="#000" stroke="none"/>
<path d="M0,0 L-1.70,-0.74 Q-6.80,-2.53 -11.90,-4.51 L-14.96,-4.60 Q-17.00,-4.60 -17.00,0 Q-17.00,4.60 -14.96,4.60 L-11.90,4.51 Q-6.80,2.53 -1.70,0.74 Z" transform="translate(1886.6 218.5) rotate(-90)" fill="#000" stroke="none"/>
<line x1="1886.3" y1="238.0" x2="1885.6" y2="276.0" stroke-width="1.79" stroke-linecap="butt" stroke-dasharray="7 4"/>
<path d="M0,0 L-2.10,-0.70 Q-8.40,-2.42 -14.70,-4.31 L-18.48,-4.40 Q-21.00,-4.40 -21.00,0 Q-21.00,4.40 -18.48,4.40 L-14.70,4.31 Q-8.40,2.42 -2.10,0.70 Z" transform="translate(1885.5 297.0) rotate(90)" fill="#000" stroke="none"/>
<path d="M0,0 L-1.50,-0.74 Q-6.00,-2.53 -10.50,-4.51 L-13.20,-4.60 Q-15.00,-4.60 -15.00,0 Q-15.00,4.60 -13.20,4.60 L-10.50,4.51 Q-6.00,2.53 -1.50,0.74 Z" transform="translate(1885.3 298.0) rotate(-90)" fill="#000" stroke="none"/>
<line x1="1884.8" y1="314.0" x2="1884.3" y2="414.0" stroke-width="1.01" stroke-linecap="butt" stroke-dasharray="2 11"/>
<path d="M0,0 L-1.70,-0.74 Q-6.80,-2.53 -11.90,-4.51 L-14.96,-4.60 Q-17.00,-4.60 -17.00,0 Q-17.00,4.60 -14.96,4.60 L-11.90,4.51 Q-6.80,2.53 -1.70,0.74 Z" transform="translate(1884.2 431.0) rotate(90)" fill="#000" stroke="none"/>
<text x="0" y="8.05" font-size="22.5" font-weight="bold" text-anchor="middle" transform="translate(1901.0 180.0) rotate(90) scale(0.9009871044021007 1)" stroke="none" fill="#000">700</text>
<text x="0" y="8.05" font-size="22.5" font-weight="bold" text-anchor="middle" transform="translate(1900.3 253.7) rotate(90) scale(0.9009871044021007 1)" stroke="none" fill="#000">590</text>
<rect x="1886.5" y="339" width="20.5" height="50" fill="#fff" stroke="none"/>
<circle cx="1884.5" cy="361.9" r="1.7" fill="#000" stroke-width="1.34"/>
<text x="0" y="8.05" font-size="22.5" font-weight="bold" text-anchor="middle" transform="translate(1896.6 363.9) rotate(90) scale(0.8952650498544219 1)" stroke="none" fill="#000">1330</text>
<text x="0" y="5.19" font-size="14.5" font-weight="bold" text-anchor="middle" transform="translate(1262.6 248.0) rotate(90) scale(1.0 1)" stroke="none" fill="#000">580</text>
<text x="0" y="5.12" font-size="14.3" font-weight="bold" text-anchor="middle" transform="translate(1735.0 250.3) rotate(90) scale(1.12 1)" stroke="none" fill="#000">630</text>
<text x="0" y="5.37" font-size="15" font-weight="bold" text-anchor="middle" transform="translate(2180.8 251.5) rotate(90) scale(1.04 1)" stroke="none" fill="#000">580</text>
<text x="0" y="5.19" font-size="14.5" font-weight="bold" text-anchor="middle" transform="translate(2247.3 261.7) rotate(90) scale(1.08 1)" stroke="none" fill="#000">630</text>
<text x="0" y="4.30" font-size="12" font-weight="bold" text-anchor="middle" transform="translate(2218.5 375.0) rotate(180) scale(0.9 1)" stroke="none" fill="#000">556</text>
<rect x="470" y="274" width="90" height="22" fill="#fff" stroke="none"/>
<rect x="806" y="274" width="100" height="24" fill="#fff" stroke="none"/>
<text x="0" y="7.52" font-size="21" font-weight="bold" text-anchor="middle" transform="translate(515.0 287.5) rotate(180) scale(1.06 1)" stroke="none" fill="#000">R 24 Pl</text>
<text x="0" y="7.52" font-size="21" font-weight="bold" text-anchor="middle" transform="translate(859.5 287.0) rotate(180) scale(1.05 1)" stroke="none" fill="#000">NR 16 Pl</text>
<text x="0" y="7.52" font-size="21" font-weight="bold" text-anchor="middle" transform="translate(1494.0 249.7) rotate(180) scale(1.05 1)" stroke="none" fill="#000">NR 12 Pl</text>
<text x="0" y="7.52" font-size="21" font-weight="bold" text-anchor="middle" transform="translate(2013.0 250.5) rotate(180) scale(1.06 1)" stroke="none" fill="#000">R 12 Pl</text>
<text x="-22.60 -10.87 0.04 11.77" y="5.37" font-size="15" font-weight="bold" transform="translate(1090.5 298.6) rotate(180) scale(1.0 1)" stroke="none" fill="#000">NP&amp;R</text>
<text x="-26.14 -11.82 1.71 16.02" y="5.01" font-size="14" font-weight="bold" transform="translate(1319.0 267.8) rotate(180) scale(1.0 1)" stroke="none" fill="#000">NP&amp;R</text>
<circle cx="1283.7" cy="266.9" r="2.4" fill="#000" stroke-width="1.68"/>
<text x="-9.68 1.34" y="4.47" font-size="12.5" font-weight="bold" transform="translate(162.7 238.0) rotate(180) scale(1.0 1)" stroke="none" fill="#000">NP</text>
<defs>
<pattern id="dia" width="10" height="10" patternUnits="userSpaceOnUse">
<rect width="10" height="10" fill="#000"/>
<path d="M5,1.2 L8.8,5 L5,8.8 L1.2,5 Z" fill="#fff"/>
<path d="M0,-2.2 L2.2,0 L0,2.2 L-2.2,0 Z M10,-2.2 L12.2,0 L10,2.2 L7.8,0 Z M0,7.8 L2.2,10 L0,12.2 L-2.2,10 Z M10,7.8 L12.2,10 L10,12.2 L7.8,10 Z" fill="#fff"/>
</pattern>
<pattern id="dia2" width="11" height="11" patternUnits="userSpaceOnUse">
<rect width="11" height="11" fill="#000"/>
<path d="M5.5,0.2 L10.8,5.5 L5.5,10.8 L0.2,5.5 Z" fill="#fff"/>
<path d="M0,-2.6 L2.6,0 L0,2.6 L-2.6,0 Z M11,-2.6 L13.6,0 L11,2.6 L8.4,0 Z M0,8.4 L2.6,11 L0,13.6 L-2.6,11 Z M11,8.4 L13.6,11 L11,13.6 L8.4,11 Z" fill="#fff"/>
</pattern>
</defs>
<path d="M112,128.8 L235,128.8 L235,147.5 L121.5,147.5 Z" fill="#000" stroke-width="1.12" />
<rect x="142.0" y="131.8" width="7.0" height="2.5" rx="1.2" fill="#fff" stroke="none"/>
<rect x="142.0" y="135.9" width="7.0" height="2.5" rx="1.2" fill="#fff" stroke="none"/>
<rect x="142.0" y="140.1" width="7.0" height="2.5" rx="1.2" fill="#fff" stroke="none"/>
<rect x="142.0" y="144.2" width="7.0" height="2.5" rx="1.2" fill="#fff" stroke="none"/>
<rect x="152.9" y="131.8" width="7.0" height="2.5" rx="1.2" fill="#fff" stroke="none"/>
<rect x="152.9" y="135.9" width="7.0" height="2.5" rx="1.2" fill="#fff" stroke="none"/>
<rect x="152.9" y="140.1" width="7.0" height="2.5" rx="1.2" fill="#fff" stroke="none"/>
<rect x="152.9" y="144.2" width="7.0" height="2.5" rx="1.2" fill="#fff" stroke="none"/>
<rect x="163.8" y="131.8" width="7.0" height="2.5" rx="1.2" fill="#fff" stroke="none"/>
<rect x="163.8" y="135.9" width="7.0" height="2.5" rx="1.2" fill="#fff" stroke="none"/>
<rect x="163.8" y="140.1" width="7.0" height="2.5" rx="1.2" fill="#fff" stroke="none"/>
<rect x="163.8" y="144.2" width="7.0" height="2.5" rx="1.2" fill="#fff" stroke="none"/>
<rect x="174.7" y="131.8" width="7.0" height="2.5" rx="1.2" fill="#fff" stroke="none"/>
<rect x="174.7" y="135.9" width="7.0" height="2.5" rx="1.2" fill="#fff" stroke="none"/>
<rect x="174.7" y="140.1" width="7.0" height="2.5" rx="1.2" fill="#fff" stroke="none"/>
<rect x="174.7" y="144.2" width="7.0" height="2.5" rx="1.2" fill="#fff" stroke="none"/>
<rect x="185.6" y="131.8" width="7.0" height="2.5" rx="1.2" fill="#fff" stroke="none"/>
<rect x="185.6" y="135.9" width="7.0" height="2.5" rx="1.2" fill="#fff" stroke="none"/>
<rect x="185.6" y="140.1" width="7.0" height="2.5" rx="1.2" fill="#fff" stroke="none"/>
<rect x="185.6" y="144.2" width="7.0" height="2.5" rx="1.2" fill="#fff" stroke="none"/>
<rect x="196.5" y="131.8" width="7.0" height="2.5" rx="1.2" fill="#fff" stroke="none"/>
<rect x="196.5" y="135.9" width="7.0" height="2.5" rx="1.2" fill="#fff" stroke="none"/>
<rect x="196.5" y="140.1" width="7.0" height="2.5" rx="1.2" fill="#fff" stroke="none"/>
<rect x="196.5" y="144.2" width="7.0" height="2.5" rx="1.2" fill="#fff" stroke="none"/>
<rect x="207.4" y="131.8" width="7.0" height="2.5" rx="1.2" fill="#fff" stroke="none"/>
<rect x="207.4" y="135.9" width="7.0" height="2.5" rx="1.2" fill="#fff" stroke="none"/>
<rect x="207.4" y="140.1" width="7.0" height="2.5" rx="1.2" fill="#fff" stroke="none"/>
<rect x="207.4" y="144.2" width="7.0" height="2.5" rx="1.2" fill="#fff" stroke="none"/>
<rect x="218.3" y="131.8" width="7.0" height="2.5" rx="1.2" fill="#fff" stroke="none"/>
<rect x="218.3" y="135.9" width="7.0" height="2.5" rx="1.2" fill="#fff" stroke="none"/>
<rect x="218.3" y="140.1" width="7.0" height="2.5" rx="1.2" fill="#fff" stroke="none"/>
<rect x="218.3" y="144.2" width="7.0" height="2.5" rx="1.2" fill="#fff" stroke="none"/>
<rect x="229.2" y="132.9" width="3.6" height="2.2" rx="1.1" fill="#fff" stroke="none"/>
<rect x="229.2" y="137.4" width="3.6" height="2.2" rx="1.1" fill="#fff" stroke="none"/>
<rect x="229.2" y="141.9" width="3.6" height="2.2" rx="1.1" fill="#fff" stroke="none"/>
<rect x="123.8" y="132.0" width="5.8" height="2.4" rx="1.2" fill="#fff" stroke="none"/>
<rect x="123.8" y="136.1" width="5.8" height="2.4" rx="1.2" fill="#fff" stroke="none"/>
<rect x="123.8" y="140.2" width="5.8" height="2.4" rx="1.2" fill="#fff" stroke="none"/>
<rect x="123.8" y="144.1" width="5.8" height="2.4" rx="1.2" fill="#fff" stroke="none"/>
<rect x="116.0" y="132.5" width="2.6" height="2.0" rx="1.0" fill="#fff" stroke="none"/>
<rect x="116.0" y="136.5" width="2.6" height="2.0" rx="1.0" fill="#fff" stroke="none"/>
<line x1="112.5" y1="129.0" x2="131.5" y2="166.5" stroke-width="3.36" stroke-linecap="butt"/>
<path d="M121.5,147.5 L126,147.5 L133,166 L131,167 Z" fill="#000" stroke-width="1.12" />
<rect x="132.0" y="129.0" width="7.5" height="41.0" fill="#000" stroke="none"/>
<rect x="127.5" y="166.0" width="11.5" height="76.0" fill="#000" stroke="none"/>
<line x1="135.5" y1="242.0" x2="135.5" y2="328.0" stroke-width="2.69" stroke-linecap="butt"/>
<line x1="141.6" y1="244.0" x2="141.6" y2="326.0" stroke-width="2.24" stroke-linecap="butt"/>
<rect x="128.5" y="326.0" width="8.0" height="94.0" fill="#000" stroke="none"/>
<path d="M139,166 L147,166 C149,176 151,186.7 158,186.7 L206,186.7 C212,186.7 214,180 217,172 L229,152" fill="none" stroke-width="2.91" />
<path d="M148,165 L223,165 L222,172.5 L150,172.5 Z M150,172.5 L212,172.5 L210,178.5 L153,178.5 Z" fill="#000" stroke-width="1.12" />
<rect x="154.5" y="167.8" width="68" height="2.8" fill="#fff" stroke="none"/>
<rect x="165.5" y="172.6" width="35" height="3.2" fill="#fff" stroke="none"/>
<path d="M222,166 L229,152 L236.5,150 L236.5,176 L220,173 Z" fill="#000" stroke-width="1.12" />
<path d="M150.5,166 L158.5,155 L158.5,166 Z" fill="#000" stroke-width="1.12" />
<path d="M147,197 L147.2,226 Q146.5,234 142,238.5" fill="none" stroke-width="4.48" stroke-linecap="round"/>
<rect x="115.7" y="219.5" width="12.8" height="2.7" fill="#000" stroke="none"/>
<rect x="99.0" y="225.5" width="29.5" height="11.5" fill="#000" stroke="none"/>
<rect x="101.6" y="227.7" width="1.7" height="7.3" fill="#fff" stroke="none"/>
<rect x="105.3" y="227.7" width="1.7" height="7.3" fill="#fff" stroke="none"/>
<rect x="109.0" y="227.7" width="1.7" height="7.3" fill="#fff" stroke="none"/>
<rect x="112.7" y="227.7" width="1.7" height="7.3" fill="#fff" stroke="none"/>
<rect x="116.4" y="227.7" width="1.7" height="7.3" fill="#fff" stroke="none"/>
<rect x="120.1" y="227.7" width="1.7" height="7.3" fill="#fff" stroke="none"/>
<rect x="123.8" y="227.7" width="1.7" height="7.3" fill="#fff" stroke="none"/>
<rect x="99.0" y="327.0" width="29.5" height="12.3" fill="#000" stroke="none"/>
<rect x="101.6" y="329.2" width="1.7" height="8.1" fill="#fff" stroke="none"/>
<rect x="105.3" y="329.2" width="1.7" height="8.1" fill="#fff" stroke="none"/>
<rect x="109.0" y="329.2" width="1.7" height="8.1" fill="#fff" stroke="none"/>
<rect x="112.7" y="329.2" width="1.7" height="8.1" fill="#fff" stroke="none"/>
<rect x="116.4" y="329.2" width="1.7" height="8.1" fill="#fff" stroke="none"/>
<rect x="120.1" y="329.2" width="1.7" height="8.1" fill="#fff" stroke="none"/>
<rect x="123.8" y="329.2" width="1.7" height="8.1" fill="#fff" stroke="none"/>
<path d="M84.5,238.5 L128.5,238.5 L128.5,327 L84.5,327 L84.5,317.5 L59,317.5 Q54.5,317.5 54.5,313 L54.5,252 Q54.5,247.5 59,247.5 L84.5,247.5 Z" fill="url(#dia)" stroke-width="2.69" />
<line x1="54.5" y1="283.2" x2="128.0" y2="283.2" stroke-width="2.46" stroke-linecap="butt"/>
<line x1="36.0" y1="283.2" x2="54.5" y2="283.2" stroke-width="1.79" stroke-linecap="butt"/>
<rect x="91.0" y="178.5" width="37.5" height="27.0" rx="0" fill="none" stroke-width="2.69"/>
<rect x="73.0" y="181.7" width="18.0" height="20.6" rx="0" fill="none" stroke-width="2.46"/>
<line x1="73.0" y1="192.0" x2="128.5" y2="192.0" stroke-width="1.79" stroke-linecap="butt"/>
<rect x="63.9" y="167.4" width="10.1" height="49.2" rx="4.6" fill="#000" stroke="none"/>
<line x1="59.5" y1="192.0" x2="65.5" y2="192.0" stroke-width="1.79" stroke-linecap="butt"/>
<rect x="119.5" y="192.5" width="9.0" height="10.0" fill="#000" stroke="none"/>
<rect x="91.0" y="360.8" width="37.5" height="27.0" rx="0" fill="none" stroke-width="2.69"/>
<rect x="73.0" y="364.0" width="18.0" height="20.6" rx="0" fill="none" stroke-width="2.46"/>
<line x1="73.0" y1="374.3" x2="128.5" y2="374.3" stroke-width="1.79" stroke-linecap="butt"/>
<rect x="63.9" y="349.7" width="10.1" height="49.2" rx="4.6" fill="#000" stroke="none"/>
<line x1="59.5" y1="374.3" x2="65.5" y2="374.3" stroke-width="1.79" stroke-linecap="butt"/>
<rect x="117.5" y="365.3" width="11.0" height="14.5" fill="#000" stroke="none"/>
<rect x="113.0" y="341.0" width="16.5" height="4.2" fill="#000" stroke="none"/>
<rect x="107.5" y="390.7" width="21.0" height="3.1" fill="#000" stroke="none"/>
<ellipse cx="113" cy="402.3" rx="5" ry="5.8" stroke-width="2.3" transform="rotate(20 113 402.3)"/>
<path d="M129.5,395 L110.7,433 L112.5,438.6 L226,438.6 Q229,438.6 229,435 L229,419.5 L119,419.5 Z" fill="#000" stroke-width="1.12" />
<line x1="129.5" y1="395.0" x2="110.7" y2="433.5" stroke-width="3.36" stroke-linecap="butt"/>
<rect x="119.0" y="422.1" width="6.4" height="2.4" rx="1.2" fill="#fff" stroke="none"/>
<rect x="119.0" y="426.6" width="6.4" height="2.4" rx="1.2" fill="#fff" stroke="none"/>
<rect x="119.0" y="431.0" width="6.4" height="2.4" rx="1.2" fill="#fff" stroke="none"/>
<rect x="119.0" y="435.0" width="6.4" height="2.4" rx="1.2" fill="#fff" stroke="none"/>
<rect x="128.3" y="422.1" width="6.4" height="2.4" rx="1.2" fill="#fff" stroke="none"/>
<rect x="128.3" y="426.6" width="6.4" height="2.4" rx="1.2" fill="#fff" stroke="none"/>
<rect x="128.3" y="431.0" width="6.4" height="2.4" rx="1.2" fill="#fff" stroke="none"/>
<rect x="128.3" y="435.0" width="6.4" height="2.4" rx="1.2" fill="#fff" stroke="none"/>
<rect x="137.6" y="422.1" width="6.4" height="2.4" rx="1.2" fill="#fff" stroke="none"/>
<rect x="137.6" y="426.6" width="6.4" height="2.4" rx="1.2" fill="#fff" stroke="none"/>
<rect x="137.6" y="431.0" width="6.4" height="2.4" rx="1.2" fill="#fff" stroke="none"/>
<rect x="137.6" y="435.0" width="6.4" height="2.4" rx="1.2" fill="#fff" stroke="none"/>
<rect x="146.9" y="422.1" width="6.4" height="2.4" rx="1.2" fill="#fff" stroke="none"/>
<rect x="146.9" y="426.6" width="6.4" height="2.4" rx="1.2" fill="#fff" stroke="none"/>
<rect x="146.9" y="431.0" width="6.4" height="2.4" rx="1.2" fill="#fff" stroke="none"/>
<rect x="146.9" y="435.0" width="6.4" height="2.4" rx="1.2" fill="#fff" stroke="none"/>
<rect x="156.2" y="422.1" width="6.4" height="2.4" rx="1.2" fill="#fff" stroke="none"/>
<rect x="156.2" y="426.6" width="6.4" height="2.4" rx="1.2" fill="#fff" stroke="none"/>
<rect x="156.2" y="431.0" width="6.4" height="2.4" rx="1.2" fill="#fff" stroke="none"/>
<rect x="156.2" y="435.0" width="6.4" height="2.4" rx="1.2" fill="#fff" stroke="none"/>
<rect x="165.5" y="422.1" width="6.4" height="2.4" rx="1.2" fill="#fff" stroke="none"/>
<rect x="165.5" y="426.6" width="6.4" height="2.4" rx="1.2" fill="#fff" stroke="none"/>
<rect x="165.5" y="431.0" width="6.4" height="2.4" rx="1.2" fill="#fff" stroke="none"/>
<rect x="165.5" y="435.0" width="6.4" height="2.4" rx="1.2" fill="#fff" stroke="none"/>
<rect x="174.8" y="422.1" width="6.4" height="2.4" rx="1.2" fill="#fff" stroke="none"/>
<rect x="174.8" y="426.6" width="6.4" height="2.4" rx="1.2" fill="#fff" stroke="none"/>
<rect x="174.8" y="431.0" width="6.4" height="2.4" rx="1.2" fill="#fff" stroke="none"/>
<rect x="174.8" y="435.0" width="6.4" height="2.4" rx="1.2" fill="#fff" stroke="none"/>
<rect x="184.1" y="422.1" width="6.4" height="2.4" rx="1.2" fill="#fff" stroke="none"/>
<rect x="184.1" y="426.6" width="6.4" height="2.4" rx="1.2" fill="#fff" stroke="none"/>
<rect x="184.1" y="431.0" width="6.4" height="2.4" rx="1.2" fill="#fff" stroke="none"/>
<rect x="184.1" y="435.0" width="6.4" height="2.4" rx="1.2" fill="#fff" stroke="none"/>
<rect x="193.4" y="422.1" width="6.4" height="2.4" rx="1.2" fill="#fff" stroke="none"/>
<rect x="193.4" y="426.6" width="6.4" height="2.4" rx="1.2" fill="#fff" stroke="none"/>
<rect x="193.4" y="431.0" width="6.4" height="2.4" rx="1.2" fill="#fff" stroke="none"/>
<rect x="193.4" y="435.0" width="6.4" height="2.4" rx="1.2" fill="#fff" stroke="none"/>
<rect x="202.7" y="422.1" width="6.4" height="2.4" rx="1.2" fill="#fff" stroke="none"/>
<rect x="202.7" y="426.6" width="6.4" height="2.4" rx="1.2" fill="#fff" stroke="none"/>
<rect x="202.7" y="431.0" width="6.4" height="2.4" rx="1.2" fill="#fff" stroke="none"/>
<rect x="202.7" y="435.0" width="6.4" height="2.4" rx="1.2" fill="#fff" stroke="none"/>
<rect x="212.0" y="422.1" width="6.4" height="2.4" rx="1.2" fill="#fff" stroke="none"/>
<rect x="212.0" y="426.6" width="6.4" height="2.4" rx="1.2" fill="#fff" stroke="none"/>
<rect x="212.0" y="431.0" width="6.4" height="2.4" rx="1.2" fill="#fff" stroke="none"/>
<rect x="212.0" y="435.0" width="6.4" height="2.4" rx="1.2" fill="#fff" stroke="none"/>
<path d="M137.5,395.5 L143,389 L150.5,380.2 L207,380.2 L214,389 L219,396 L226,418" fill="none" stroke-width="2.8" />
<path d="M141,387.6 L229,387.6 L229,396.3 L139,396.3 Z" fill="#000" stroke-width="1.12" />
<rect x="163.5" y="390.3" width="51" height="2.7" fill="#fff" stroke="none"/>
<path d="M229,388 L235.5,388 L235.5,420 L226,420 L219,396 Z" fill="#000" stroke-width="1.12" />
<line x1="139.5" y1="396.0" x2="131.0" y2="419.5" stroke-width="2.46" stroke-linecap="butt"/>
<path d="M147.5,402 L155.5,402 L153,414.5 Z" fill="#000" stroke-width="1.12" />
<line x1="151.5" y1="397.0" x2="151.5" y2="404.0" stroke-width="2.24" stroke-linecap="butt"/>
<circle cx="187.0" cy="214.8" r="8.3" fill="none" stroke-width="2.46"/>
<line x1="181.9" y1="209.7" x2="192.1" y2="219.9" stroke-width="2.24" stroke-linecap="butt"/>
<line x1="181.9" y1="219.9" x2="192.1" y2="209.7" stroke-width="2.24" stroke-linecap="butt"/>
<circle cx="184.8" cy="352.7" r="8.3" fill="none" stroke-width="2.46"/>
<line x1="179.7" y1="347.6" x2="189.9" y2="357.8" stroke-width="2.24" stroke-linecap="butt"/>
<line x1="179.7" y1="357.8" x2="189.9" y2="347.6" stroke-width="2.24" stroke-linecap="butt"/>
<path d="M2169,131.2 L2289.5,131.2 L2279.5,152 L2169,152 Z" fill="#000" stroke-width="1.12" />
<rect x="2173.6" y="134.4" width="6.3" height="15.4" rx="1.2" fill="#fff" stroke="none"/>
<rect x="2173.3" y="139.0" width="2.3" height="1.3" fill="#000" stroke="none"/>
<rect x="2178.0" y="139.0" width="2.2" height="1.3" fill="#000" stroke="none"/>
<rect x="2173.3" y="144.2" width="2.3" height="1.3" fill="#000" stroke="none"/>
<rect x="2178.0" y="144.2" width="2.2" height="1.3" fill="#000" stroke="none"/>
<rect x="2182.8" y="134.4" width="6.3" height="15.4" rx="1.2" fill="#fff" stroke="none"/>
<rect x="2182.5" y="139.0" width="2.3" height="1.3" fill="#000" stroke="none"/>
<rect x="2187.2" y="139.0" width="2.2" height="1.3" fill="#000" stroke="none"/>
<rect x="2182.5" y="144.2" width="2.3" height="1.3" fill="#000" stroke="none"/>
<rect x="2187.2" y="144.2" width="2.2" height="1.3" fill="#000" stroke="none"/>
<rect x="2192.0" y="134.4" width="6.3" height="15.4" rx="1.2" fill="#fff" stroke="none"/>
<rect x="2191.7" y="139.0" width="2.3" height="1.3" fill="#000" stroke="none"/>
<rect x="2196.4" y="139.0" width="2.2" height="1.3" fill="#000" stroke="none"/>
<rect x="2191.7" y="144.2" width="2.3" height="1.3" fill="#000" stroke="none"/>
<rect x="2196.4" y="144.2" width="2.2" height="1.3" fill="#000" stroke="none"/>
<rect x="2201.2" y="134.4" width="6.3" height="15.4" rx="1.2" fill="#fff" stroke="none"/>
<rect x="2200.9" y="139.0" width="2.3" height="1.3" fill="#000" stroke="none"/>
<rect x="2205.6" y="139.0" width="2.2" height="1.3" fill="#000" stroke="none"/>
<rect x="2200.9" y="144.2" width="2.3" height="1.3" fill="#000" stroke="none"/>
<rect x="2205.6" y="144.2" width="2.2" height="1.3" fill="#000" stroke="none"/>
<rect x="2210.4" y="134.4" width="6.3" height="15.4" rx="1.2" fill="#fff" stroke="none"/>
<rect x="2210.1" y="139.0" width="2.3" height="1.3" fill="#000" stroke="none"/>
<rect x="2214.8" y="139.0" width="2.2" height="1.3" fill="#000" stroke="none"/>
<rect x="2210.1" y="144.2" width="2.3" height="1.3" fill="#000" stroke="none"/>
<rect x="2214.8" y="144.2" width="2.2" height="1.3" fill="#000" stroke="none"/>
<rect x="2219.6" y="134.4" width="6.3" height="15.4" rx="1.2" fill="#fff" stroke="none"/>
<rect x="2219.3" y="139.0" width="2.3" height="1.3" fill="#000" stroke="none"/>
<rect x="2224.0" y="139.0" width="2.2" height="1.3" fill="#000" stroke="none"/>
<rect x="2219.3" y="144.2" width="2.3" height="1.3" fill="#000" stroke="none"/>
<rect x="2224.0" y="144.2" width="2.2" height="1.3" fill="#000" stroke="none"/>
<rect x="2228.8" y="134.4" width="6.3" height="15.4" rx="1.2" fill="#fff" stroke="none"/>
<rect x="2228.5" y="139.0" width="2.3" height="1.3" fill="#000" stroke="none"/>
<rect x="2233.2" y="139.0" width="2.2" height="1.3" fill="#000" stroke="none"/>
<rect x="2228.5" y="144.2" width="2.3" height="1.3" fill="#000" stroke="none"/>
<rect x="2233.2" y="144.2" width="2.2" height="1.3" fill="#000" stroke="none"/>
<rect x="2238.0" y="134.4" width="6.3" height="15.4" rx="1.2" fill="#fff" stroke="none"/>
<rect x="2237.7" y="139.0" width="2.3" height="1.3" fill="#000" stroke="none"/>
<rect x="2242.4" y="139.0" width="2.2" height="1.3" fill="#000" stroke="none"/>
<rect x="2237.7" y="144.2" width="2.3" height="1.3" fill="#000" stroke="none"/>
<rect x="2242.4" y="144.2" width="2.2" height="1.3" fill="#000" stroke="none"/>
<rect x="2247.2" y="134.4" width="6.3" height="15.4" rx="1.2" fill="#fff" stroke="none"/>
<rect x="2246.9" y="139.0" width="2.3" height="1.3" fill="#000" stroke="none"/>
<rect x="2251.6" y="139.0" width="2.2" height="1.3" fill="#000" stroke="none"/>
<rect x="2246.9" y="144.2" width="2.3" height="1.3" fill="#000" stroke="none"/>
<rect x="2251.6" y="144.2" width="2.2" height="1.3" fill="#000" stroke="none"/>
<rect x="2256.4" y="134.4" width="6.3" height="15.4" rx="1.2" fill="#fff" stroke="none"/>
<rect x="2256.1" y="139.0" width="2.3" height="1.3" fill="#000" stroke="none"/>
<rect x="2260.8" y="139.0" width="2.2" height="1.3" fill="#000" stroke="none"/>
<rect x="2256.1" y="144.2" width="2.3" height="1.3" fill="#000" stroke="none"/>
<rect x="2260.8" y="144.2" width="2.2" height="1.3" fill="#000" stroke="none"/>
<path d="M2272.5,134.6 L2284.5,134.6 L2278.5,149.6 L2272.5,149.6 Z" fill="#fff" stroke-width="1.12" stroke="#fff"/>
<rect x="2272.0" y="139.3" width="5.0" height="1.4" fill="#000" stroke="none"/>
<rect x="2272.0" y="144.4" width="4.0" height="1.4" fill="#000" stroke="none"/>
<line x1="2289.2" y1="132.5" x2="2270.2" y2="172.5" stroke-width="3.36" stroke-linecap="butt"/>
<rect x="2262.0" y="150.0" width="7.8" height="96.0" fill="#000" stroke="none"/>
<rect x="2256.6" y="246.0" width="3.6" height="73.0" fill="#000" stroke="none"/>
<line x1="2252.5" y1="248.5" x2="2261.5" y2="248.5" stroke-width="2.24" stroke-linecap="butt"/>
<line x1="2252.5" y1="316.5" x2="2261.5" y2="316.5" stroke-width="2.24" stroke-linecap="butt"/>
<rect x="2260.3" y="319.0" width="6.3" height="95.0" fill="#000" stroke="none"/>
<ellipse cx="2263.6" cy="412" rx="3.6" ry="4.6" fill="#000" stroke="none"/>
<path d="M2177.5,153 L2184,167.5" fill="none" stroke-width="2.69" />
<path d="M2187,178 C2189,183 2191,187 2197,187 L2243,187 C2249,187 2250,180 2254,175" fill="none" stroke-width="2.8" />
<path d="M2178,167.3 L2256,167.3 L2256,171 L2178,171 Z" fill="#000" stroke-width="1.12" />
<path d="M2180,173 L2254,173 L2249,179.5 L2190,179.5 L2184,179.5 Z" fill="#000" stroke-width="1.12" />
<rect x="2201" y="174.5" width="36.5" height="3.3" rx="1.4" fill="#fff" stroke="none"/>
<circle cx="2184.6" cy="175.6" r="2.2" fill="#fff" stroke="none"/>
<path d="M2243.5,157 L2251.8,163.5 L2246.5,169.5 L2244,169.5 Z" fill="#000" stroke-width="1.12" />
<path d="M2169,150 L2177.5,152 L2184,168 L2178,176 L2169,178 Z" fill="#000" stroke-width="1.12" />
<path d="M2254,167.3 L2262.5,158 L2262.5,178 L2252,176 Z" fill="#000" stroke-width="1.12" />
<path d="M2278.5,167 A7 7 0 0 1 2290.5,164 L2291.5,176" fill="none" stroke-width="2.13" />
<path d="M2279,174.5 L2291.5,174.5" fill="none" stroke-width="2.91" />
<path d="M2284,169 L2291,174" fill="none" stroke-width="2.24" />
<rect x="2269.8" y="222.8" width="15.0" height="3.0" fill="#000" stroke="none"/>
<rect x="2269.8" y="210.0" width="4.2" height="2.0" fill="#000" stroke="none"/>
<rect x="2269.8" y="216.5" width="4.2" height="1.8" fill="#000" stroke="none"/>
<rect x="2267.5" y="230.2" width="31.5" height="12.0" fill="#000" stroke="none"/>
<rect x="2270.1" y="232.4" width="1.7" height="7.8" fill="#fff" stroke="none"/>
<rect x="2273.8" y="232.4" width="1.7" height="7.8" fill="#fff" stroke="none"/>
<rect x="2277.5" y="232.4" width="1.7" height="7.8" fill="#fff" stroke="none"/>
<rect x="2281.2" y="232.4" width="1.7" height="7.8" fill="#fff" stroke="none"/>
<rect x="2284.9" y="232.4" width="1.7" height="7.8" fill="#fff" stroke="none"/>
<rect x="2288.6" y="232.4" width="1.7" height="7.8" fill="#fff" stroke="none"/>
<rect x="2292.3" y="232.4" width="1.7" height="7.8" fill="#fff" stroke="none"/>
<rect x="2296.0" y="232.4" width="1.7" height="7.8" fill="#fff" stroke="none"/>
<rect x="2268.0" y="329.0" width="27.0" height="11.3" fill="#000" stroke="none"/>
<rect x="2270.6" y="331.2" width="1.7" height="7.1" fill="#fff" stroke="none"/>
<rect x="2274.3" y="331.2" width="1.7" height="7.1" fill="#fff" stroke="none"/>
<rect x="2278.0" y="331.2" width="1.7" height="7.1" fill="#fff" stroke="none"/>
<rect x="2281.7" y="331.2" width="1.7" height="7.1" fill="#fff" stroke="none"/>
<rect x="2285.4" y="331.2" width="1.7" height="7.1" fill="#fff" stroke="none"/>
<rect x="2289.1" y="331.2" width="1.7" height="7.1" fill="#fff" stroke="none"/>
<rect x="2268.0" y="347.8" width="16.6" height="2.6" fill="#000" stroke="none"/>
<path d="M2264,244 L2315,244 L2315,252 L2341,252 Q2345.5,252 2345.5,256.5 L2345.5,315 Q2345.5,319.5 2341,319.5 L2315,319.5 L2315,328 L2264,328 Z" fill="url(#dia2)" stroke-width="2.91" />
<rect x="2262.2" y="243.0" width="4.6" height="86.0" fill="#000" stroke="none"/>
<line x1="2266.0" y1="286.2" x2="2345.0" y2="286.2" stroke-width="2.69" stroke-linecap="butt"/>
<line x1="2266.0" y1="256.8" x2="2345.0" y2="256.8" stroke-width="2.02" stroke-linecap="butt"/>
<line x1="2266.0" y1="313.8" x2="2345.0" y2="313.8" stroke-width="2.02" stroke-linecap="butt"/>
<rect x="2270.0" y="181.7" width="38.0" height="27.0" rx="0" fill="none" stroke-width="2.69"/>
<rect x="2308.0" y="185.0" width="21.0" height="20.4" rx="0" fill="none" stroke-width="2.46"/>
<line x1="2282.0" y1="195.2" x2="2298.0" y2="195.2" stroke-width="1.46" stroke-linecap="butt" stroke-dasharray="9 6"/>
<rect x="2328.7" y="171.2" width="10.6" height="48" rx="4.6" fill="#000" stroke="none"/>
<line x1="2333.5" y1="179.2" x2="2333.5" y2="211.2" stroke="#fff" stroke-width="1.1"/>
<rect x="2270.0" y="197.2" width="8.0" height="5.5" fill="#000" stroke="none"/>
<rect x="2270.0" y="365.1" width="38.0" height="27.0" rx="0" fill="none" stroke-width="2.69"/>
<rect x="2308.0" y="368.4" width="21.0" height="20.4" rx="0" fill="none" stroke-width="2.46"/>
<line x1="2282.0" y1="378.6" x2="2298.0" y2="378.6" stroke-width="1.46" stroke-linecap="butt" stroke-dasharray="9 6"/>
<rect x="2328.7" y="354.6" width="10.6" height="48" rx="4.6" fill="#000" stroke="none"/>
<line x1="2333.5" y1="362.6" x2="2333.5" y2="394.6" stroke="#fff" stroke-width="1.1"/>
<rect x="2270.0" y="380.6" width="8.0" height="5.5" fill="#000" stroke="none"/>
<path d="M2170.7,420.8 L2279,420.8 L2267,402 L2271.5,402 L2286.2,433.3 L2283,442 L2170.7,442 Z" fill="#000" stroke-width="1.12" />
<rect x="2172.5" y="422.6" width="7.2" height="3.2" rx="1.2" fill="#fff" stroke="none"/>
<rect x="2172.5" y="427.4" width="7.2" height="3.2" rx="1.2" fill="#fff" stroke="none"/>
<rect x="2172.5" y="432.6" width="7.2" height="3.2" rx="1.2" fill="#fff" stroke="none"/>
<rect x="2172.5" y="437.6" width="7.2" height="3.2" rx="1.2" fill="#fff" stroke="none"/>
<rect x="2183.2" y="422.6" width="7.2" height="3.2" rx="1.2" fill="#fff" stroke="none"/>
<rect x="2183.2" y="427.4" width="7.2" height="3.2" rx="1.2" fill="#fff" stroke="none"/>
<rect x="2183.2" y="432.6" width="7.2" height="3.2" rx="1.2" fill="#fff" stroke="none"/>
<rect x="2183.2" y="437.6" width="7.2" height="3.2" rx="1.2" fill="#fff" stroke="none"/>
<rect x="2193.9" y="422.6" width="7.2" height="3.2" rx="1.2" fill="#fff" stroke="none"/>
<rect x="2193.9" y="427.4" width="7.2" height="3.2" rx="1.2" fill="#fff" stroke="none"/>
<rect x="2193.9" y="432.6" width="7.2" height="3.2" rx="1.2" fill="#fff" stroke="none"/>
<rect x="2193.9" y="437.6" width="7.2" height="3.2" rx="1.2" fill="#fff" stroke="none"/>
<rect x="2204.6" y="422.6" width="7.2" height="3.2" rx="1.2" fill="#fff" stroke="none"/>
<rect x="2204.6" y="427.4" width="7.2" height="3.2" rx="1.2" fill="#fff" stroke="none"/>
<rect x="2204.6" y="432.6" width="7.2" height="3.2" rx="1.2" fill="#fff" stroke="none"/>
<rect x="2204.6" y="437.6" width="7.2" height="3.2" rx="1.2" fill="#fff" stroke="none"/>
<rect x="2215.3" y="422.6" width="7.2" height="3.2" rx="1.2" fill="#fff" stroke="none"/>
<rect x="2215.3" y="427.4" width="7.2" height="3.2" rx="1.2" fill="#fff" stroke="none"/>
<rect x="2215.3" y="432.6" width="7.2" height="3.2" rx="1.2" fill="#fff" stroke="none"/>
<rect x="2215.3" y="437.6" width="7.2" height="3.2" rx="1.2" fill="#fff" stroke="none"/>
<rect x="2226.0" y="422.6" width="7.2" height="3.2" rx="1.2" fill="#fff" stroke="none"/>
<rect x="2226.0" y="427.4" width="7.2" height="3.2" rx="1.2" fill="#fff" stroke="none"/>
<rect x="2226.0" y="432.6" width="7.2" height="3.2" rx="1.2" fill="#fff" stroke="none"/>
<rect x="2226.0" y="437.6" width="7.2" height="3.2" rx="1.2" fill="#fff" stroke="none"/>
<rect x="2236.7" y="422.6" width="7.2" height="3.2" rx="1.2" fill="#fff" stroke="none"/>
<rect x="2236.7" y="427.4" width="7.2" height="3.2" rx="1.2" fill="#fff" stroke="none"/>
<rect x="2236.7" y="432.6" width="7.2" height="3.2" rx="1.2" fill="#fff" stroke="none"/>
<rect x="2236.7" y="437.6" width="7.2" height="3.2" rx="1.2" fill="#fff" stroke="none"/>
<rect x="2247.4" y="422.6" width="7.2" height="3.2" rx="1.2" fill="#fff" stroke="none"/>
<rect x="2247.4" y="427.4" width="7.2" height="3.2" rx="1.2" fill="#fff" stroke="none"/>
<rect x="2247.4" y="432.6" width="7.2" height="3.2" rx="1.2" fill="#fff" stroke="none"/>
<rect x="2247.4" y="437.6" width="7.2" height="3.2" rx="1.2" fill="#fff" stroke="none"/>
<rect x="2258.1" y="422.6" width="7.2" height="3.2" rx="1.2" fill="#fff" stroke="none"/>
<rect x="2258.1" y="427.4" width="7.2" height="3.2" rx="1.2" fill="#fff" stroke="none"/>
<rect x="2258.1" y="432.6" width="7.2" height="3.2" rx="1.2" fill="#fff" stroke="none"/>
<rect x="2258.1" y="437.6" width="7.2" height="3.2" rx="1.2" fill="#fff" stroke="none"/>
<rect x="2268.8" y="422.6" width="7.2" height="3.2" rx="1.2" fill="#fff" stroke="none"/>
<rect x="2268.8" y="427.4" width="7.2" height="3.2" rx="1.2" fill="#fff" stroke="none"/>
<rect x="2268.8" y="432.6" width="7.2" height="3.2" rx="1.2" fill="#fff" stroke="none"/>
<rect x="2268.8" y="437.6" width="7.2" height="3.2" rx="1.2" fill="#fff" stroke="none"/>
<path d="M2276,421 L2286,433.5 L2283,442 L2276,442 Z" fill="#000" stroke-width="1.12" />
<rect x="2269.5" y="422.8" width="8" height="2.6" fill="#fff" stroke="none"/>
<rect x="2271" y="427.6" width="9.5" height="2.6" fill="#fff" stroke="none"/>
<rect x="2272" y="432.9" width="10" height="2.6" fill="#fff" stroke="none"/>
<rect x="2271" y="438" width="8.5" height="2.4" fill="#fff" stroke="none"/>
<line x1="2267.0" y1="402.2" x2="2286.2" y2="433.5" stroke-width="3.36" stroke-linecap="butt"/>
<path d="M2178,400.5 L2184,391 Q2188,384 2194,384 L2240,384 Q2246,384 2249,390 L2255,400.5" fill="none" stroke-width="2.69" />
<path d="M2184,390.5 L2249.5,390.5 L2254,398.8 L2179.5,398.8 Z" fill="#000" stroke-width="1.12" />
<rect x="2199" y="394.3" width="35" height="2.9" rx="1.2" fill="#fff" stroke="none"/>
<circle cx="2182.3" cy="395.4" r="2.2" fill="#fff" stroke="#000" stroke-width="1.2"/>
<line x1="2177.5" y1="400.4" x2="2256.0" y2="400.4" stroke-width="2.91" stroke-linecap="butt"/>
<path d="M2163.5,393 L2184,391 L2178,401 L2171.5,421 L2163.5,421 Z" fill="#000" stroke-width="1.12" />
<path d="M2180,402 L2172.5,420" fill="none" stroke-width="2.46" />
<path d="M2176.2,403.5 L2172.6,414" stroke="#fff" stroke-width="1.6"/>
<ellipse cx="2245" cy="410.5" rx="3.7" ry="6.2" fill="#000" stroke="none"/>
<path d="M2255,400 L2267,402 L2279,421 L2262,421 Z" fill="#000" stroke-width="1.12" />
<path d="M2258.5,403 L2270,421" stroke="#fff" stroke-width="2.4"/>
<circle cx="2213.4" cy="219.4" r="8.3" fill="none" stroke-width="2.46"/>
<line x1="2208.3" y1="214.3" x2="2218.5" y2="224.5" stroke-width="2.24" stroke-linecap="butt"/>
<line x1="2208.3" y1="224.5" x2="2218.5" y2="214.3" stroke-width="2.24" stroke-linecap="butt"/>
<circle cx="2211.7" cy="354.5" r="8.3" fill="none" stroke-width="2.46"/>
<line x1="2206.6" y1="349.4" x2="2216.8" y2="359.6" stroke-width="2.24" stroke-linecap="butt"/>
<line x1="2206.6" y1="359.6" x2="2216.8" y2="349.4" stroke-width="2.24" stroke-linecap="butt"/>
</g>
</svg>
</body></html>
